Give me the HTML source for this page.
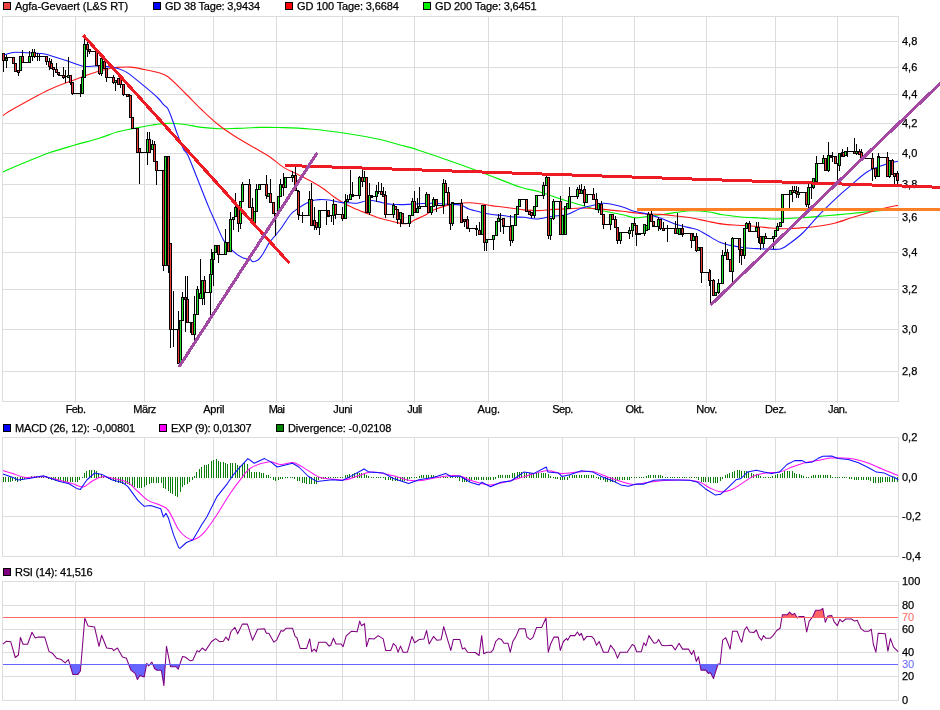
<!DOCTYPE html>
<html><head><meta charset="utf-8"><title>Chart</title>
<style>html,body{margin:0;padding:0;background:#fff}svg{display:block}</style></head>
<body><svg width="940" height="710" viewBox="0 0 940 710">
<rect width="940" height="710" fill="#fff"/>
<g shape-rendering="crispEdges" stroke="#dcdcdc" stroke-width="1" fill="none">
<line x1="75.5" y1="16.5" x2="75.5" y2="403.0"/>
<line x1="144.5" y1="16.5" x2="144.5" y2="403.0"/>
<line x1="213.5" y1="16.5" x2="213.5" y2="403.0"/>
<line x1="276.5" y1="16.5" x2="276.5" y2="403.0"/>
<line x1="342.5" y1="16.5" x2="342.5" y2="403.0"/>
<line x1="414.5" y1="16.5" x2="414.5" y2="403.0"/>
<line x1="488.5" y1="16.5" x2="488.5" y2="403.0"/>
<line x1="562.5" y1="16.5" x2="562.5" y2="403.0"/>
<line x1="634.5" y1="16.5" x2="634.5" y2="403.0"/>
<line x1="706.5" y1="16.5" x2="706.5" y2="403.0"/>
<line x1="775.5" y1="16.5" x2="775.5" y2="403.0"/>
<line x1="837.5" y1="16.5" x2="837.5" y2="403.0"/>
<line x1="2.5" y1="41.5" x2="898.5" y2="41.5"/>
<line x1="2.5" y1="67.5" x2="898.5" y2="67.5"/>
<line x1="2.5" y1="94.5" x2="898.5" y2="94.5"/>
<line x1="2.5" y1="123.5" x2="898.5" y2="123.5"/>
<line x1="2.5" y1="153.5" x2="898.5" y2="153.5"/>
<line x1="2.5" y1="184.5" x2="898.5" y2="184.5"/>
<line x1="2.5" y1="217.5" x2="898.5" y2="217.5"/>
<line x1="2.5" y1="252.5" x2="898.5" y2="252.5"/>
<line x1="2.5" y1="289.5" x2="898.5" y2="289.5"/>
<line x1="2.5" y1="329.5" x2="898.5" y2="329.5"/>
<line x1="2.5" y1="371.5" x2="898.5" y2="371.5"/>
<rect x="2.5" y="16.5" width="896.0" height="385.0"/>
<line x1="75.5" y1="437.5" x2="75.5" y2="556.5"/>
<line x1="144.5" y1="437.5" x2="144.5" y2="556.5"/>
<line x1="213.5" y1="437.5" x2="213.5" y2="556.5"/>
<line x1="276.5" y1="437.5" x2="276.5" y2="556.5"/>
<line x1="342.5" y1="437.5" x2="342.5" y2="556.5"/>
<line x1="414.5" y1="437.5" x2="414.5" y2="556.5"/>
<line x1="488.5" y1="437.5" x2="488.5" y2="556.5"/>
<line x1="562.5" y1="437.5" x2="562.5" y2="556.5"/>
<line x1="634.5" y1="437.5" x2="634.5" y2="556.5"/>
<line x1="706.5" y1="437.5" x2="706.5" y2="556.5"/>
<line x1="775.5" y1="437.5" x2="775.5" y2="556.5"/>
<line x1="837.5" y1="437.5" x2="837.5" y2="556.5"/>
<line x1="2.5" y1="516.5" x2="898.5" y2="516.5"/>
<rect x="2.5" y="437.5" width="896.0" height="119.0"/>
<line x1="75.5" y1="581.5" x2="75.5" y2="700.5"/>
<line x1="144.5" y1="581.5" x2="144.5" y2="700.5"/>
<line x1="213.5" y1="581.5" x2="213.5" y2="700.5"/>
<line x1="276.5" y1="581.5" x2="276.5" y2="700.5"/>
<line x1="342.5" y1="581.5" x2="342.5" y2="700.5"/>
<line x1="414.5" y1="581.5" x2="414.5" y2="700.5"/>
<line x1="488.5" y1="581.5" x2="488.5" y2="700.5"/>
<line x1="562.5" y1="581.5" x2="562.5" y2="700.5"/>
<line x1="634.5" y1="581.5" x2="634.5" y2="700.5"/>
<line x1="706.5" y1="581.5" x2="706.5" y2="700.5"/>
<line x1="775.5" y1="581.5" x2="775.5" y2="700.5"/>
<line x1="837.5" y1="581.5" x2="837.5" y2="700.5"/>
<line x1="2.5" y1="605.5" x2="898.5" y2="605.5"/>
<line x1="2.5" y1="629.5" x2="898.5" y2="629.5"/>
<line x1="2.5" y1="652.5" x2="898.5" y2="652.5"/>
<line x1="2.5" y1="676.5" x2="898.5" y2="676.5"/>
<rect x="2.5" y="581.5" width="896.0" height="119.0"/>
</g>
<clipPath id="c1"><rect x="3" y="17" width="895" height="384"/></clipPath>
<g clip-path="url(#c1)">
<path fill="none" stroke="#00f000" stroke-width="1.15" d="M2.5,172 C6.25,170.42 17.08,165.75 25,162.5 C32.92,159.25 41.67,155.42 50,152.5 C58.33,149.58 66.67,147.42 75,145 C83.33,142.58 93,140.17 100,138 C107,135.83 111.33,133.6 117,132 C122.67,130.4 128.33,129.52 134,128.4 C139.67,127.28 146.17,126.1 151,125.3 C155.83,124.5 159.58,123.93 163,123.6 C166.42,123.27 167.83,123.15 171.5,123.3 C175.17,123.45 179.92,123.82 185,124.5 C190.08,125.18 196.33,126.7 202,127.4 C207.67,128.1 213.33,128.53 219,128.7 C224.67,128.87 229.17,128.62 236,128.4 C242.83,128.18 253.08,127.55 260,127.4 C266.92,127.25 269.17,127.23 277.5,127.5 C285.83,127.77 297.92,127.92 310,129 C322.08,130.08 338.33,132.25 350,134 C361.67,135.75 371.67,137.67 380,139.5 C388.33,141.33 393.67,143.25 400,145 C406.33,146.75 405.58,145.88 418,150 C430.42,154.12 457.5,163.53 474.5,169.7 C491.5,175.87 509.38,183.37 520,187 C530.62,190.63 530.48,189.22 538.2,191.5 C545.92,193.78 556.92,197.78 566.3,200.7 C575.68,203.62 585.1,206.65 594.5,209 C603.9,211.35 615.95,213.33 622.7,214.8 C629.45,216.27 631.2,217.48 635,217.8 C638.8,218.12 641.17,217.2 645.5,216.7 C649.83,216.2 655.83,215.52 661,214.8 C666.17,214.08 671.33,213.07 676.5,212.4 C681.67,211.73 686.83,210.92 692,210.8 C697.17,210.68 702.33,211.03 707.5,211.7 C712.67,212.37 717.83,213.97 723,214.8 C728.17,215.63 732.33,216.17 738.5,216.7 C744.67,217.23 753.87,217.62 760,218 C766.13,218.38 768.52,219.03 775.3,219 C782.08,218.97 792.25,218.35 800.7,217.8 C809.15,217.25 817.55,216.42 826,215.7 C834.45,214.98 842.95,214.28 851.4,213.5 C859.85,212.72 868.93,211.78 876.7,211 C884.47,210.22 894.45,209.17 898,208.8"/>
<path fill="none" stroke="#ff1a1a" stroke-width="1.1" d="M2.5,116 C4,115 3.83,114.33 11.5,110 C19.17,105.67 37.87,95.1 48.5,90 C59.13,84.9 67.22,82.45 75.3,79.4 C83.38,76.35 91.47,73.47 97,71.7 C102.53,69.93 105.17,69.52 108.5,68.8 C111.83,68.08 113.32,67.68 117,67.4 C120.68,67.12 126.05,66.75 130.6,67.1 C135.15,67.45 139.75,68.6 144.3,69.5 C148.85,70.4 153.95,71.28 157.9,72.5 C161.85,73.72 163.48,73.38 168,76.8 C172.52,80.22 179.33,87.47 185,93 C190.67,98.53 196.33,104.62 202,110 C207.67,115.38 213.33,120.8 219,125.3 C224.67,129.8 229.73,133.05 236,137 C242.27,140.95 250.93,145.67 256.6,149 C262.27,152.33 265.43,153.9 270,157 C274.57,160.1 279.33,164.67 284,167.6 C288.67,170.53 293.33,172.25 298,174.6 C302.67,176.95 307.75,179.35 312,181.7 C316.25,184.05 319.93,186.23 323.5,188.7 C327.07,191.17 330.12,194.15 333.4,196.5 C336.68,198.85 339.68,200.8 343.2,202.8 C346.72,204.8 350.27,206.63 354.5,208.5 C358.73,210.37 364.55,212.42 368.6,214 C372.65,215.58 375.22,216.87 378.8,218 C382.38,219.13 386.72,219.95 390.1,220.8 C393.48,221.65 396.48,222.6 399.1,223.1 C401.72,223.6 403.92,223.88 405.8,223.8 C407.68,223.72 408.88,223.27 410.4,222.6 C411.92,221.93 412.47,221.03 414.9,219.8 C417.33,218.57 422.1,216.73 425,215.2 C427.9,213.67 428.75,212.2 432.3,210.6 C435.85,209 442.08,206.78 446.3,205.6 C450.52,204.42 453.83,203.97 457.6,203.5 C461.37,203.03 465.17,202.75 468.9,202.8 C472.63,202.85 476.25,203.33 480,203.8 C483.75,204.27 487.62,205.07 491.4,205.6 C495.18,206.13 498.93,206.52 502.7,207 C506.47,207.48 510.45,208.02 514,208.5 C517.55,208.98 519.97,209.55 524,209.9 C528.03,210.25 533.48,210.68 538.2,210.6 C542.92,210.52 547.62,209.68 552.3,209.4 C556.98,209.12 561.62,209.13 566.3,208.9 C570.98,208.67 575.7,208.07 580.4,208 C585.1,207.93 589.8,208.18 594.5,208.5 C599.2,208.82 603.9,209.43 608.6,209.9 C613.3,210.37 617.47,210.72 622.7,211.3 C627.93,211.88 633.62,212.88 640,213.4 C646.38,213.92 654.92,213.97 661,214.4 C667.08,214.83 671.33,215.4 676.5,216 C681.67,216.6 686.83,217.12 692,218 C697.17,218.88 702.33,220.28 707.5,221.3 C712.67,222.32 717.83,223.45 723,224.1 C728.17,224.75 733.85,224.88 738.5,225.2 C743.15,225.52 746.17,225.6 750.9,226 C755.63,226.4 761.42,227.13 766.9,227.6 C772.38,228.07 778.17,228.75 783.8,228.8 C789.43,228.85 795.07,228.33 800.7,227.9 C806.33,227.47 811.97,226.98 817.6,226.2 C823.23,225.42 828.87,224.6 834.5,223.2 C840.13,221.8 845.78,219.55 851.4,217.8 C857.02,216.05 862.58,214.33 868.2,212.7 C873.82,211.07 880.13,209.22 885.1,208 C890.07,206.78 895.85,205.83 898,205.4"/>
<path fill="none" stroke="#1a1aff" stroke-width="1.1" d="M3,55 C3.45,54.92 3.65,54.97 5.7,54.5 C7.75,54.03 10.08,52.38 15.3,52.2 C20.52,52.02 31.88,53.07 37,53.4 C42.12,53.73 40.67,52.85 46,54.2 C51.33,55.55 62.83,59.5 69,61.5 C75.17,63.5 78.55,65.45 83,66.2 C87.45,66.95 91.73,65.93 95.7,66 C99.67,66.07 103.25,66.22 106.8,66.6 C110.35,66.98 113.6,67.3 117,68.3 C120.4,69.3 122.65,69.62 127.2,72.6 C131.75,75.58 139.18,81.97 144.3,86.2 C149.42,90.43 154.65,94.88 157.9,98 C161.15,101.12 162.12,103.07 163.8,104.9 C165.48,106.73 166.43,106.15 168,109 C169.57,111.85 171.77,118.17 173.2,122 C174.63,125.83 174.9,127.5 176.6,132 C178.3,136.5 181.5,145.08 183.4,149 C185.3,152.92 185.52,150.17 188,155.5 C190.48,160.83 194.88,172.48 198.3,181 C201.72,189.52 205.67,199.77 208.5,206.6 C211.33,213.43 212.75,216.33 215.3,222 C217.85,227.67 220.9,235.8 223.8,240.6 C226.7,245.4 229.57,247.93 232.7,250.8 C235.83,253.67 239.63,256.32 242.6,257.8 C245.57,259.28 248.8,259.05 250.5,259.7 C252.2,260.35 251.5,261.7 252.8,261.7 C254.1,261.7 256.77,260.77 258.3,259.7 C259.83,258.63 260.88,256.88 262,255.3 C263.12,253.72 263.78,252.32 265,250.2 C266.22,248.08 268.13,244.42 269.3,242.6 C270.47,240.78 270.78,240.73 272,239.3 C273.22,237.87 275.05,235.88 276.6,234 C278.15,232.12 280.07,229.67 281.3,228 C282.53,226.33 282.38,226.33 284,224 C285.62,221.67 288.67,216.58 291,214 C293.33,211.42 295.67,210.17 298,208.5 C300.33,206.83 302.67,205.3 305,204 C307.33,202.7 309.62,201.43 312,200.7 C314.38,199.97 316.47,199.72 319.3,199.6 C322.13,199.48 325.48,199.53 329,200 C332.52,200.47 337.07,201.93 340.4,202.4 C343.73,202.87 346.18,202.67 349,202.8 C351.82,202.93 354.5,203.5 357.3,203.2 C360.1,202.9 363.02,201.42 365.8,201 C368.58,200.58 371.18,200.4 374,200.7 C376.82,201 379.87,202.22 382.7,202.8 C385.53,203.38 387.45,203.9 391,204.2 C394.55,204.5 399.47,204.67 404,204.6 C408.53,204.53 413.48,204.03 418.2,203.8 C422.92,203.57 427.62,203.13 432.3,203.2 C436.98,203.27 441.62,203.9 446.3,204.2 C450.98,204.5 456.63,204.2 460.4,205 C464.17,205.8 465.63,207.83 468.9,209 C472.17,210.17 476.25,211.08 480,212 C483.75,212.92 487.62,213.92 491.4,214.5 C495.18,215.08 498.93,215.08 502.7,215.5 C506.47,215.92 510.45,216.7 514,217 C517.55,217.3 520.2,216.97 524,217.3 C527.8,217.63 532.08,219.18 536.8,219 C541.52,218.82 547.38,216.9 552.3,216.2 C557.22,215.5 561.62,216.08 566.3,214.8 C570.98,213.52 575.7,210.13 580.4,208.5 C585.1,206.87 590.73,205.88 594.5,205 C598.27,204.12 600.18,203.33 603,203.2 C605.82,203.07 608.12,203.57 611.4,204.2 C614.68,204.83 618.93,205.82 622.7,207 C626.47,208.18 630.2,210.2 634,211.3 C637.8,212.4 641,212.45 645.5,213.6 C650,214.75 655.83,216.4 661,218.2 C666.17,220 671.33,222.72 676.5,224.4 C681.67,226.08 688.38,227.38 692,228.3 C695.62,229.22 695.62,228.73 698.2,229.9 C700.78,231.07 703.88,233.23 707.5,235.3 C711.12,237.37 716.03,240.62 719.9,242.3 C723.77,243.98 726.57,244.5 730.7,245.4 C734.83,246.3 739.82,247.13 744.7,247.7 C749.58,248.27 756.3,248.58 760,248.8 C763.7,249.02 763.5,248.97 766.9,249 C770.3,249.03 776.73,249.83 780.4,249 C784.07,248.17 785.18,246.67 788.9,244 C792.62,241.33 797.58,237.93 802.7,233 C807.82,228.07 814.05,220.18 819.6,214.4 C825.15,208.62 830.7,203.23 836,198.3 C841.3,193.37 846.03,189.3 851.4,184.8 C856.77,180.3 862.58,174.67 868.2,171.3 C873.82,167.93 880.13,166.28 885.1,164.6 C890.07,162.92 895.85,161.77 898,161.2"/>
</g>
<g shape-rendering="crispEdges">
<rect x="3" y="53" width="1" height="19" fill="#000"/>
<rect x="2" y="53" width="3" height="8" fill="#000"/>
<rect x="3" y="54" width="1" height="6" fill="#ee3a38"/>
<rect x="6" y="55" width="1" height="13" fill="#000"/>
<rect x="5" y="58" width="3" height="3" fill="#000"/>
<rect x="6" y="59" width="1" height="1" fill="#22e22a"/>
<rect x="5" y="57" width="9" height="1" fill="#000"/>
<rect x="13" y="57" width="1" height="6" fill="#000"/>
<rect x="12" y="57" width="3" height="7" fill="#000"/>
<rect x="13" y="58" width="1" height="5" fill="#ee3a38"/>
<rect x="15" y="63" width="1" height="8" fill="#000"/>
<rect x="14" y="63" width="3" height="9" fill="#000"/>
<rect x="15" y="64" width="1" height="7" fill="#ee3a38"/>
<rect x="18" y="70" width="1" height="6" fill="#000"/>
<rect x="17" y="70" width="3" height="3" fill="#000"/>
<rect x="18" y="71" width="1" height="1" fill="#ee3a38"/>
<rect x="20" y="56" width="1" height="14" fill="#000"/>
<rect x="19" y="56" width="3" height="15" fill="#000"/>
<rect x="20" y="57" width="1" height="13" fill="#22e22a"/>
<rect x="22" y="50" width="1" height="12" fill="#000"/>
<rect x="21" y="56" width="3" height="7" fill="#000"/>
<rect x="22" y="57" width="1" height="5" fill="#ee3a38"/>
<rect x="22" y="62" width="8" height="1" fill="#000"/>
<rect x="29" y="51" width="1" height="11" fill="#000"/>
<rect x="28" y="56" width="3" height="7" fill="#000"/>
<rect x="29" y="57" width="1" height="5" fill="#22e22a"/>
<rect x="32" y="49" width="1" height="12" fill="#000"/>
<rect x="31" y="52" width="3" height="5" fill="#000"/>
<rect x="32" y="53" width="1" height="3" fill="#22e22a"/>
<rect x="34" y="49" width="1" height="9" fill="#000"/>
<rect x="33" y="52" width="3" height="5" fill="#000"/>
<rect x="34" y="53" width="1" height="3" fill="#ee3a38"/>
<rect x="37" y="53" width="1" height="8" fill="#000"/>
<rect x="36" y="56" width="3" height="1" fill="#000"/>
<rect x="39" y="54" width="1" height="7" fill="#000"/>
<rect x="38" y="56" width="3" height="1" fill="#000"/>
<rect x="33" y="56" width="13" height="1" fill="#000"/>
<rect x="46" y="56" width="1" height="9" fill="#000"/>
<rect x="45" y="56" width="3" height="6" fill="#000"/>
<rect x="46" y="57" width="1" height="4" fill="#ee3a38"/>
<rect x="49" y="58" width="1" height="12" fill="#000"/>
<rect x="48" y="61" width="3" height="6" fill="#000"/>
<rect x="49" y="62" width="1" height="4" fill="#ee3a38"/>
<rect x="51" y="59" width="1" height="9" fill="#000"/>
<rect x="50" y="63" width="3" height="6" fill="#000"/>
<rect x="51" y="64" width="1" height="4" fill="#ee3a38"/>
<rect x="53" y="67" width="1" height="10" fill="#000"/>
<rect x="52" y="67" width="3" height="3" fill="#000"/>
<rect x="53" y="68" width="1" height="1" fill="#ee3a38"/>
<rect x="52" y="69" width="5" height="1" fill="#000"/>
<rect x="56" y="63" width="1" height="9" fill="#000"/>
<rect x="55" y="69" width="3" height="4" fill="#000"/>
<rect x="56" y="70" width="1" height="2" fill="#ee3a38"/>
<rect x="58" y="72" width="1" height="2" fill="#000"/>
<rect x="57" y="72" width="3" height="3" fill="#000"/>
<rect x="58" y="73" width="1" height="1" fill="#ee3a38"/>
<rect x="58" y="75" width="6" height="1" fill="#000"/>
<rect x="63" y="67" width="1" height="12" fill="#000"/>
<rect x="62" y="75" width="3" height="3" fill="#000"/>
<rect x="63" y="76" width="1" height="1" fill="#ee3a38"/>
<rect x="65" y="70" width="1" height="13" fill="#000"/>
<rect x="64" y="76" width="3" height="1" fill="#000"/>
<rect x="68" y="57" width="1" height="20" fill="#000"/>
<rect x="67" y="75" width="3" height="3" fill="#000"/>
<rect x="68" y="76" width="1" height="1" fill="#22e22a"/>
<rect x="70" y="75" width="1" height="10" fill="#000"/>
<rect x="69" y="75" width="3" height="8" fill="#000"/>
<rect x="70" y="76" width="1" height="6" fill="#ee3a38"/>
<rect x="72" y="82" width="1" height="13" fill="#000"/>
<rect x="71" y="82" width="3" height="12" fill="#000"/>
<rect x="72" y="83" width="1" height="10" fill="#ee3a38"/>
<rect x="72" y="93" width="9" height="1" fill="#000"/>
<rect x="80" y="84" width="1" height="13" fill="#000"/>
<rect x="79" y="93" width="3" height="1" fill="#000"/>
<rect x="82" y="70" width="1" height="23" fill="#000"/>
<rect x="81" y="77" width="3" height="17" fill="#000"/>
<rect x="82" y="78" width="1" height="15" fill="#22e22a"/>
<rect x="84" y="39" width="1" height="38" fill="#000"/>
<rect x="83" y="44" width="3" height="34" fill="#000"/>
<rect x="84" y="45" width="1" height="32" fill="#22e22a"/>
<rect x="87" y="42" width="1" height="15" fill="#000"/>
<rect x="86" y="44" width="3" height="6" fill="#000"/>
<rect x="87" y="45" width="1" height="4" fill="#ee3a38"/>
<rect x="89" y="49" width="1" height="5" fill="#000"/>
<rect x="88" y="49" width="3" height="3" fill="#000"/>
<rect x="89" y="50" width="1" height="1" fill="#ee3a38"/>
<rect x="88" y="51" width="9" height="1" fill="#000"/>
<rect x="96" y="51" width="1" height="14" fill="#000"/>
<rect x="95" y="51" width="3" height="15" fill="#000"/>
<rect x="96" y="52" width="1" height="13" fill="#ee3a38"/>
<rect x="99" y="65" width="1" height="10" fill="#000"/>
<rect x="98" y="65" width="3" height="9" fill="#000"/>
<rect x="99" y="66" width="1" height="7" fill="#ee3a38"/>
<rect x="101" y="58" width="1" height="18" fill="#000"/>
<rect x="100" y="58" width="3" height="16" fill="#000"/>
<rect x="101" y="59" width="1" height="14" fill="#22e22a"/>
<rect x="104" y="61" width="1" height="7" fill="#000"/>
<rect x="103" y="61" width="3" height="8" fill="#000"/>
<rect x="104" y="62" width="1" height="6" fill="#ee3a38"/>
<rect x="106" y="68" width="1" height="14" fill="#000"/>
<rect x="105" y="68" width="3" height="10" fill="#000"/>
<rect x="106" y="69" width="1" height="8" fill="#ee3a38"/>
<rect x="106" y="77" width="8" height="1" fill="#000"/>
<rect x="113" y="75" width="1" height="9" fill="#000"/>
<rect x="112" y="77" width="3" height="6" fill="#000"/>
<rect x="113" y="78" width="1" height="4" fill="#ee3a38"/>
<rect x="115" y="80" width="1" height="11" fill="#000"/>
<rect x="114" y="80" width="3" height="3" fill="#000"/>
<rect x="115" y="81" width="1" height="1" fill="#22e22a"/>
<rect x="118" y="78" width="1" height="6" fill="#000"/>
<rect x="117" y="78" width="3" height="7" fill="#000"/>
<rect x="118" y="79" width="1" height="5" fill="#ee3a38"/>
<rect x="120" y="74" width="1" height="14" fill="#000"/>
<rect x="119" y="78" width="3" height="7" fill="#000"/>
<rect x="120" y="79" width="1" height="5" fill="#ee3a38"/>
<rect x="123" y="84" width="1" height="12" fill="#000"/>
<rect x="122" y="84" width="3" height="11" fill="#000"/>
<rect x="123" y="85" width="1" height="9" fill="#ee3a38"/>
<rect x="124" y="94" width="6" height="1" fill="#000"/>
<rect x="127" y="94" width="1" height="3" fill="#000"/>
<rect x="126" y="94" width="3" height="3" fill="#000"/>
<rect x="127" y="95" width="1" height="1" fill="#ee3a38"/>
<rect x="130" y="95" width="1" height="22" fill="#000"/>
<rect x="129" y="95" width="3" height="23" fill="#000"/>
<rect x="130" y="96" width="1" height="21" fill="#ee3a38"/>
<rect x="132" y="117" width="1" height="11" fill="#000"/>
<rect x="131" y="117" width="3" height="12" fill="#000"/>
<rect x="132" y="118" width="1" height="10" fill="#ee3a38"/>
<rect x="132" y="128" width="5" height="1" fill="#000"/>
<rect x="137" y="128" width="1" height="24" fill="#000"/>
<rect x="136" y="128" width="3" height="25" fill="#000"/>
<rect x="137" y="129" width="1" height="23" fill="#ee3a38"/>
<rect x="139" y="148" width="1" height="36" fill="#000"/>
<rect x="138" y="148" width="3" height="5" fill="#000"/>
<rect x="139" y="149" width="1" height="3" fill="#ee3a38"/>
<rect x="138" y="152" width="9" height="1" fill="#000"/>
<rect x="147" y="132" width="1" height="33" fill="#000"/>
<rect x="146" y="139" width="3" height="14" fill="#000"/>
<rect x="147" y="140" width="1" height="12" fill="#22e22a"/>
<rect x="149" y="132" width="1" height="20" fill="#000"/>
<rect x="148" y="139" width="3" height="14" fill="#000"/>
<rect x="149" y="140" width="1" height="12" fill="#ee3a38"/>
<rect x="152" y="140" width="1" height="9" fill="#000"/>
<rect x="151" y="144" width="3" height="6" fill="#000"/>
<rect x="152" y="145" width="1" height="4" fill="#22e22a"/>
<rect x="154" y="141" width="1" height="20" fill="#000"/>
<rect x="153" y="144" width="3" height="18" fill="#000"/>
<rect x="154" y="145" width="1" height="16" fill="#ee3a38"/>
<rect x="156" y="161" width="1" height="24" fill="#000"/>
<rect x="155" y="161" width="3" height="10" fill="#000"/>
<rect x="156" y="162" width="1" height="8" fill="#ee3a38"/>
<rect x="156" y="170" width="8" height="1" fill="#000"/>
<rect x="163" y="170" width="1" height="101" fill="#000"/>
<rect x="162" y="170" width="3" height="96" fill="#000"/>
<rect x="163" y="171" width="1" height="94" fill="#ee3a38"/>
<rect x="165" y="156" width="1" height="109" fill="#000"/>
<rect x="164" y="156" width="3" height="110" fill="#000"/>
<rect x="165" y="157" width="1" height="108" fill="#22e22a"/>
<rect x="168" y="156" width="1" height="117" fill="#000"/>
<rect x="167" y="156" width="3" height="110" fill="#000"/>
<rect x="168" y="157" width="1" height="108" fill="#ee3a38"/>
<rect x="170" y="243" width="1" height="105" fill="#000"/>
<rect x="169" y="243" width="3" height="87" fill="#000"/>
<rect x="170" y="244" width="1" height="85" fill="#ee3a38"/>
<rect x="171" y="329" width="7" height="1" fill="#000"/>
<rect x="173" y="291" width="1" height="56" fill="#000"/>
<rect x="172" y="329" width="3" height="1" fill="#000"/>
<rect x="178" y="311" width="1" height="52" fill="#000"/>
<rect x="177" y="329" width="3" height="35" fill="#000"/>
<rect x="178" y="330" width="1" height="33" fill="#ee3a38"/>
<rect x="180" y="320" width="1" height="43" fill="#000"/>
<rect x="179" y="320" width="3" height="44" fill="#000"/>
<rect x="180" y="321" width="1" height="42" fill="#22e22a"/>
<rect x="182" y="292" width="1" height="28" fill="#000"/>
<rect x="181" y="297" width="3" height="24" fill="#000"/>
<rect x="182" y="298" width="1" height="22" fill="#22e22a"/>
<rect x="185" y="276" width="1" height="56" fill="#000"/>
<rect x="184" y="297" width="3" height="3" fill="#000"/>
<rect x="185" y="298" width="1" height="1" fill="#ee3a38"/>
<rect x="187" y="276" width="1" height="46" fill="#000"/>
<rect x="186" y="299" width="3" height="24" fill="#000"/>
<rect x="187" y="300" width="1" height="22" fill="#ee3a38"/>
<rect x="188" y="322" width="4" height="1" fill="#000"/>
<rect x="191" y="322" width="1" height="10" fill="#000"/>
<rect x="190" y="322" width="3" height="11" fill="#000"/>
<rect x="191" y="323" width="1" height="9" fill="#ee3a38"/>
<rect x="192" y="322" width="1" height="12" fill="#000"/>
<rect x="191" y="322" width="3" height="13" fill="#000"/>
<rect x="192" y="323" width="1" height="11" fill="#ee3a38"/>
<rect x="194" y="296" width="1" height="44" fill="#000"/>
<rect x="193" y="314" width="3" height="21" fill="#000"/>
<rect x="194" y="315" width="1" height="19" fill="#22e22a"/>
<rect x="197" y="286" width="1" height="28" fill="#000"/>
<rect x="196" y="289" width="3" height="26" fill="#000"/>
<rect x="197" y="290" width="1" height="24" fill="#22e22a"/>
<rect x="200" y="259" width="1" height="39" fill="#000"/>
<rect x="199" y="293" width="3" height="6" fill="#000"/>
<rect x="200" y="294" width="1" height="4" fill="#22e22a"/>
<rect x="202" y="280" width="1" height="25" fill="#000"/>
<rect x="201" y="280" width="3" height="19" fill="#000"/>
<rect x="202" y="281" width="1" height="17" fill="#22e22a"/>
<rect x="204" y="276" width="1" height="29" fill="#000"/>
<rect x="203" y="280" width="3" height="13" fill="#000"/>
<rect x="204" y="281" width="1" height="11" fill="#ee3a38"/>
<rect x="204" y="292" width="6" height="1" fill="#000"/>
<rect x="210" y="274" width="1" height="43" fill="#000"/>
<rect x="209" y="274" width="3" height="19" fill="#000"/>
<rect x="210" y="275" width="1" height="17" fill="#22e22a"/>
<rect x="211" y="249" width="1" height="25" fill="#000"/>
<rect x="210" y="259" width="3" height="16" fill="#000"/>
<rect x="211" y="260" width="1" height="14" fill="#22e22a"/>
<rect x="213" y="252" width="1" height="34" fill="#000"/>
<rect x="212" y="252" width="3" height="8" fill="#000"/>
<rect x="213" y="253" width="1" height="6" fill="#22e22a"/>
<rect x="215" y="245" width="1" height="7" fill="#000"/>
<rect x="214" y="245" width="3" height="8" fill="#000"/>
<rect x="215" y="246" width="1" height="6" fill="#22e22a"/>
<rect x="218" y="245" width="1" height="18" fill="#000"/>
<rect x="217" y="245" width="3" height="10" fill="#000"/>
<rect x="218" y="246" width="1" height="8" fill="#ee3a38"/>
<rect x="218" y="254" width="9" height="1" fill="#000"/>
<rect x="225" y="229" width="1" height="25" fill="#000"/>
<rect x="224" y="242" width="3" height="13" fill="#000"/>
<rect x="225" y="243" width="1" height="11" fill="#22e22a"/>
<rect x="228" y="242" width="1" height="9" fill="#000"/>
<rect x="227" y="242" width="3" height="10" fill="#000"/>
<rect x="228" y="243" width="1" height="8" fill="#ee3a38"/>
<rect x="230" y="212" width="1" height="39" fill="#000"/>
<rect x="229" y="219" width="3" height="33" fill="#000"/>
<rect x="230" y="220" width="1" height="31" fill="#22e22a"/>
<rect x="233" y="217" width="1" height="13" fill="#000"/>
<rect x="232" y="217" width="3" height="3" fill="#000"/>
<rect x="233" y="218" width="1" height="1" fill="#22e22a"/>
<rect x="235" y="193" width="1" height="23" fill="#000"/>
<rect x="234" y="207" width="3" height="10" fill="#000"/>
<rect x="235" y="208" width="1" height="8" fill="#22e22a"/>
<rect x="238" y="207" width="1" height="25" fill="#000"/>
<rect x="237" y="207" width="3" height="17" fill="#000"/>
<rect x="238" y="208" width="1" height="15" fill="#ee3a38"/>
<rect x="240" y="201" width="1" height="28" fill="#000"/>
<rect x="239" y="201" width="3" height="23" fill="#000"/>
<rect x="240" y="202" width="1" height="21" fill="#22e22a"/>
<rect x="242" y="182" width="1" height="19" fill="#000"/>
<rect x="241" y="184" width="3" height="18" fill="#000"/>
<rect x="242" y="185" width="1" height="16" fill="#22e22a"/>
<rect x="242" y="184" width="8" height="1" fill="#000"/>
<rect x="249" y="179" width="1" height="28" fill="#000"/>
<rect x="248" y="184" width="3" height="24" fill="#000"/>
<rect x="249" y="185" width="1" height="22" fill="#ee3a38"/>
<rect x="252" y="198" width="1" height="25" fill="#000"/>
<rect x="251" y="207" width="3" height="17" fill="#000"/>
<rect x="252" y="208" width="1" height="15" fill="#ee3a38"/>
<rect x="254" y="211" width="1" height="12" fill="#000"/>
<rect x="253" y="211" width="3" height="13" fill="#000"/>
<rect x="254" y="212" width="1" height="11" fill="#22e22a"/>
<rect x="256" y="184" width="1" height="27" fill="#000"/>
<rect x="255" y="189" width="3" height="23" fill="#000"/>
<rect x="256" y="190" width="1" height="21" fill="#22e22a"/>
<rect x="259" y="184" width="1" height="5" fill="#000"/>
<rect x="258" y="184" width="3" height="6" fill="#000"/>
<rect x="259" y="185" width="1" height="4" fill="#22e22a"/>
<rect x="259" y="184" width="8" height="1" fill="#000"/>
<rect x="266" y="175" width="1" height="24" fill="#000"/>
<rect x="265" y="184" width="3" height="12" fill="#000"/>
<rect x="266" y="185" width="1" height="10" fill="#ee3a38"/>
<rect x="268" y="193" width="1" height="3" fill="#000"/>
<rect x="267" y="193" width="3" height="4" fill="#000"/>
<rect x="268" y="194" width="1" height="2" fill="#22e22a"/>
<rect x="270" y="179" width="1" height="23" fill="#000"/>
<rect x="269" y="193" width="3" height="10" fill="#000"/>
<rect x="270" y="194" width="1" height="8" fill="#ee3a38"/>
<rect x="273" y="202" width="1" height="11" fill="#000"/>
<rect x="272" y="202" width="3" height="12" fill="#000"/>
<rect x="273" y="203" width="1" height="10" fill="#ee3a38"/>
<rect x="275" y="213" width="1" height="23" fill="#000"/>
<rect x="274" y="213" width="3" height="3" fill="#000"/>
<rect x="275" y="214" width="1" height="1" fill="#ee3a38"/>
<rect x="278" y="196" width="1" height="16" fill="#000"/>
<rect x="277" y="196" width="3" height="17" fill="#000"/>
<rect x="278" y="197" width="1" height="15" fill="#22e22a"/>
<rect x="280" y="179" width="1" height="17" fill="#000"/>
<rect x="279" y="184" width="3" height="13" fill="#000"/>
<rect x="280" y="185" width="1" height="11" fill="#22e22a"/>
<rect x="283" y="173" width="1" height="23" fill="#000"/>
<rect x="282" y="184" width="3" height="4" fill="#000"/>
<rect x="283" y="185" width="1" height="2" fill="#ee3a38"/>
<rect x="285" y="177" width="1" height="10" fill="#000"/>
<rect x="284" y="177" width="3" height="11" fill="#000"/>
<rect x="285" y="178" width="1" height="9" fill="#22e22a"/>
<rect x="284" y="177" width="10" height="1" fill="#000"/>
<rect x="292" y="171" width="1" height="11" fill="#000"/>
<rect x="291" y="175" width="3" height="3" fill="#000"/>
<rect x="292" y="176" width="1" height="1" fill="#22e22a"/>
<rect x="295" y="167" width="1" height="23" fill="#000"/>
<rect x="294" y="175" width="3" height="16" fill="#000"/>
<rect x="295" y="176" width="1" height="14" fill="#ee3a38"/>
<rect x="297" y="190" width="1" height="1" fill="#000"/>
<rect x="296" y="190" width="3" height="1" fill="#000"/>
<rect x="298" y="191" width="1" height="29" fill="#000"/>
<rect x="297" y="191" width="3" height="24" fill="#000"/>
<rect x="298" y="192" width="1" height="22" fill="#ee3a38"/>
<rect x="299" y="215" width="11" height="1" fill="#000"/>
<rect x="302" y="212" width="1" height="11" fill="#000"/>
<rect x="301" y="215" width="3" height="1" fill="#000"/>
<rect x="309" y="191" width="1" height="24" fill="#000"/>
<rect x="308" y="199" width="3" height="17" fill="#000"/>
<rect x="309" y="200" width="1" height="15" fill="#22e22a"/>
<rect x="311" y="183" width="1" height="42" fill="#000"/>
<rect x="310" y="199" width="3" height="27" fill="#000"/>
<rect x="311" y="200" width="1" height="25" fill="#ee3a38"/>
<rect x="314" y="207" width="1" height="23" fill="#000"/>
<rect x="313" y="220" width="3" height="6" fill="#000"/>
<rect x="314" y="221" width="1" height="4" fill="#ee3a38"/>
<rect x="316" y="222" width="1" height="8" fill="#000"/>
<rect x="315" y="222" width="3" height="6" fill="#000"/>
<rect x="316" y="223" width="1" height="4" fill="#ee3a38"/>
<rect x="319" y="210" width="1" height="25" fill="#000"/>
<rect x="318" y="210" width="3" height="18" fill="#000"/>
<rect x="319" y="211" width="1" height="16" fill="#22e22a"/>
<rect x="318" y="210" width="10" height="1" fill="#000"/>
<rect x="326" y="201" width="1" height="24" fill="#000"/>
<rect x="325" y="210" width="3" height="1" fill="#000"/>
<rect x="328" y="210" width="1" height="6" fill="#000"/>
<rect x="327" y="210" width="3" height="7" fill="#000"/>
<rect x="328" y="211" width="1" height="5" fill="#ee3a38"/>
<rect x="328" y="215" width="5" height="1" fill="#000"/>
<rect x="331" y="215" width="1" height="7" fill="#000"/>
<rect x="330" y="215" width="3" height="1" fill="#000"/>
<rect x="333" y="199" width="1" height="26" fill="#000"/>
<rect x="332" y="204" width="3" height="12" fill="#000"/>
<rect x="333" y="205" width="1" height="10" fill="#22e22a"/>
<rect x="335" y="204" width="1" height="15" fill="#000"/>
<rect x="334" y="204" width="3" height="11" fill="#000"/>
<rect x="335" y="205" width="1" height="9" fill="#ee3a38"/>
<rect x="334" y="214" width="10" height="1" fill="#000"/>
<rect x="342" y="207" width="1" height="14" fill="#000"/>
<rect x="341" y="214" width="3" height="5" fill="#000"/>
<rect x="342" y="215" width="1" height="3" fill="#ee3a38"/>
<rect x="345" y="194" width="1" height="24" fill="#000"/>
<rect x="344" y="201" width="3" height="18" fill="#000"/>
<rect x="345" y="202" width="1" height="16" fill="#22e22a"/>
<rect x="347" y="195" width="1" height="6" fill="#000"/>
<rect x="346" y="199" width="3" height="3" fill="#000"/>
<rect x="347" y="200" width="1" height="1" fill="#22e22a"/>
<rect x="350" y="170" width="1" height="29" fill="#000"/>
<rect x="349" y="194" width="3" height="6" fill="#000"/>
<rect x="350" y="195" width="1" height="4" fill="#22e22a"/>
<rect x="352" y="182" width="1" height="14" fill="#000"/>
<rect x="351" y="194" width="3" height="3" fill="#000"/>
<rect x="352" y="195" width="1" height="1" fill="#ee3a38"/>
<rect x="351" y="195" width="9" height="1" fill="#000"/>
<rect x="359" y="176" width="1" height="23" fill="#000"/>
<rect x="358" y="177" width="3" height="19" fill="#000"/>
<rect x="359" y="178" width="1" height="17" fill="#22e22a"/>
<rect x="362" y="170" width="1" height="17" fill="#000"/>
<rect x="361" y="177" width="3" height="5" fill="#000"/>
<rect x="362" y="178" width="1" height="3" fill="#ee3a38"/>
<rect x="364" y="171" width="1" height="10" fill="#000"/>
<rect x="363" y="177" width="3" height="5" fill="#000"/>
<rect x="364" y="178" width="1" height="3" fill="#22e22a"/>
<rect x="366" y="177" width="1" height="36" fill="#000"/>
<rect x="365" y="177" width="3" height="36" fill="#000"/>
<rect x="366" y="178" width="1" height="34" fill="#ee3a38"/>
<rect x="369" y="183" width="1" height="32" fill="#000"/>
<rect x="368" y="195" width="3" height="18" fill="#000"/>
<rect x="369" y="196" width="1" height="16" fill="#22e22a"/>
<rect x="371" y="195" width="1" height="2" fill="#000"/>
<rect x="370" y="195" width="3" height="3" fill="#000"/>
<rect x="371" y="196" width="1" height="1" fill="#ee3a38"/>
<rect x="371" y="196" width="6" height="1" fill="#000"/>
<rect x="376" y="185" width="1" height="17" fill="#000"/>
<rect x="375" y="191" width="3" height="6" fill="#000"/>
<rect x="376" y="192" width="1" height="4" fill="#22e22a"/>
<rect x="378" y="182" width="1" height="12" fill="#000"/>
<rect x="377" y="191" width="3" height="1" fill="#000"/>
<rect x="381" y="183" width="1" height="11" fill="#000"/>
<rect x="380" y="191" width="3" height="4" fill="#000"/>
<rect x="381" y="192" width="1" height="2" fill="#ee3a38"/>
<rect x="383" y="187" width="1" height="9" fill="#000"/>
<rect x="382" y="194" width="3" height="3" fill="#000"/>
<rect x="383" y="195" width="1" height="1" fill="#ee3a38"/>
<rect x="385" y="191" width="1" height="27" fill="#000"/>
<rect x="384" y="195" width="3" height="20" fill="#000"/>
<rect x="385" y="196" width="1" height="18" fill="#ee3a38"/>
<rect x="384" y="214" width="10" height="1" fill="#000"/>
<rect x="393" y="203" width="1" height="15" fill="#000"/>
<rect x="392" y="205" width="3" height="10" fill="#000"/>
<rect x="393" y="206" width="1" height="8" fill="#22e22a"/>
<rect x="395" y="206" width="1" height="3" fill="#000"/>
<rect x="394" y="206" width="3" height="4" fill="#000"/>
<rect x="395" y="207" width="1" height="2" fill="#ee3a38"/>
<rect x="397" y="209" width="1" height="15" fill="#000"/>
<rect x="396" y="209" width="3" height="11" fill="#000"/>
<rect x="397" y="210" width="1" height="9" fill="#ee3a38"/>
<rect x="400" y="212" width="1" height="15" fill="#000"/>
<rect x="399" y="212" width="3" height="8" fill="#000"/>
<rect x="400" y="213" width="1" height="6" fill="#22e22a"/>
<rect x="402" y="213" width="1" height="10" fill="#000"/>
<rect x="401" y="213" width="3" height="11" fill="#000"/>
<rect x="402" y="214" width="1" height="9" fill="#ee3a38"/>
<rect x="401" y="223" width="9" height="1" fill="#000"/>
<rect x="409" y="215" width="1" height="12" fill="#000"/>
<rect x="408" y="215" width="3" height="9" fill="#000"/>
<rect x="409" y="216" width="1" height="7" fill="#22e22a"/>
<rect x="412" y="198" width="1" height="17" fill="#000"/>
<rect x="411" y="201" width="3" height="15" fill="#000"/>
<rect x="412" y="202" width="1" height="13" fill="#22e22a"/>
<rect x="414" y="191" width="1" height="21" fill="#000"/>
<rect x="413" y="201" width="3" height="12" fill="#000"/>
<rect x="414" y="202" width="1" height="10" fill="#ee3a38"/>
<rect x="417" y="198" width="1" height="14" fill="#000"/>
<rect x="416" y="208" width="3" height="5" fill="#000"/>
<rect x="417" y="209" width="1" height="3" fill="#22e22a"/>
<rect x="419" y="187" width="1" height="21" fill="#000"/>
<rect x="418" y="206" width="3" height="3" fill="#000"/>
<rect x="419" y="207" width="1" height="1" fill="#22e22a"/>
<rect x="419" y="206" width="9" height="1" fill="#000"/>
<rect x="426" y="192" width="1" height="14" fill="#000"/>
<rect x="425" y="194" width="3" height="13" fill="#000"/>
<rect x="426" y="195" width="1" height="11" fill="#22e22a"/>
<rect x="428" y="194" width="1" height="18" fill="#000"/>
<rect x="427" y="194" width="3" height="19" fill="#000"/>
<rect x="428" y="195" width="1" height="17" fill="#ee3a38"/>
<rect x="431" y="206" width="1" height="9" fill="#000"/>
<rect x="430" y="206" width="3" height="7" fill="#000"/>
<rect x="431" y="207" width="1" height="5" fill="#22e22a"/>
<rect x="433" y="197" width="1" height="9" fill="#000"/>
<rect x="432" y="199" width="3" height="8" fill="#000"/>
<rect x="433" y="200" width="1" height="6" fill="#22e22a"/>
<rect x="436" y="199" width="1" height="13" fill="#000"/>
<rect x="435" y="199" width="3" height="7" fill="#000"/>
<rect x="436" y="200" width="1" height="5" fill="#ee3a38"/>
<rect x="435" y="205" width="9" height="1" fill="#000"/>
<rect x="443" y="179" width="1" height="35" fill="#000"/>
<rect x="442" y="183" width="3" height="23" fill="#000"/>
<rect x="443" y="184" width="1" height="21" fill="#22e22a"/>
<rect x="445" y="180" width="1" height="12" fill="#000"/>
<rect x="444" y="183" width="3" height="10" fill="#000"/>
<rect x="445" y="184" width="1" height="8" fill="#ee3a38"/>
<rect x="448" y="187" width="1" height="17" fill="#000"/>
<rect x="447" y="192" width="3" height="13" fill="#000"/>
<rect x="448" y="193" width="1" height="11" fill="#ee3a38"/>
<rect x="450" y="204" width="1" height="26" fill="#000"/>
<rect x="449" y="204" width="3" height="20" fill="#000"/>
<rect x="450" y="205" width="1" height="18" fill="#ee3a38"/>
<rect x="452" y="202" width="1" height="24" fill="#000"/>
<rect x="451" y="202" width="3" height="22" fill="#000"/>
<rect x="452" y="203" width="1" height="20" fill="#22e22a"/>
<rect x="452" y="203" width="9" height="1" fill="#000"/>
<rect x="461" y="199" width="1" height="23" fill="#000"/>
<rect x="460" y="203" width="3" height="20" fill="#000"/>
<rect x="461" y="204" width="1" height="18" fill="#ee3a38"/>
<rect x="464" y="219" width="1" height="8" fill="#000"/>
<rect x="463" y="219" width="3" height="3" fill="#000"/>
<rect x="464" y="220" width="1" height="1" fill="#ee3a38"/>
<rect x="467" y="216" width="1" height="11" fill="#000"/>
<rect x="466" y="219" width="3" height="9" fill="#000"/>
<rect x="467" y="220" width="1" height="7" fill="#ee3a38"/>
<rect x="466" y="228" width="12" height="1" fill="#000"/>
<rect x="469" y="228" width="1" height="4" fill="#000"/>
<rect x="468" y="228" width="3" height="1" fill="#000"/>
<rect x="476" y="225" width="1" height="11" fill="#000"/>
<rect x="475" y="229" width="3" height="1" fill="#000"/>
<rect x="479" y="222" width="1" height="12" fill="#000"/>
<rect x="478" y="230" width="3" height="5" fill="#000"/>
<rect x="479" y="231" width="1" height="3" fill="#ee3a38"/>
<rect x="482" y="205" width="1" height="29" fill="#000"/>
<rect x="481" y="205" width="3" height="30" fill="#000"/>
<rect x="482" y="206" width="1" height="28" fill="#22e22a"/>
<rect x="484" y="205" width="1" height="46" fill="#000"/>
<rect x="483" y="205" width="3" height="38" fill="#000"/>
<rect x="484" y="206" width="1" height="36" fill="#ee3a38"/>
<rect x="486" y="239" width="1" height="12" fill="#000"/>
<rect x="485" y="239" width="3" height="4" fill="#000"/>
<rect x="486" y="240" width="1" height="2" fill="#22e22a"/>
<rect x="485" y="239" width="10" height="1" fill="#000"/>
<rect x="493" y="235" width="1" height="15" fill="#000"/>
<rect x="492" y="235" width="3" height="5" fill="#000"/>
<rect x="493" y="236" width="1" height="3" fill="#22e22a"/>
<rect x="496" y="221" width="1" height="14" fill="#000"/>
<rect x="495" y="221" width="3" height="15" fill="#000"/>
<rect x="496" y="222" width="1" height="13" fill="#22e22a"/>
<rect x="498" y="214" width="1" height="7" fill="#000"/>
<rect x="497" y="218" width="3" height="4" fill="#000"/>
<rect x="498" y="219" width="1" height="2" fill="#22e22a"/>
<rect x="500" y="213" width="1" height="19" fill="#000"/>
<rect x="499" y="219" width="3" height="1" fill="#000"/>
<rect x="503" y="218" width="1" height="16" fill="#000"/>
<rect x="502" y="218" width="3" height="8" fill="#000"/>
<rect x="503" y="219" width="1" height="6" fill="#ee3a38"/>
<rect x="502" y="226" width="9" height="1" fill="#000"/>
<rect x="510" y="215" width="1" height="31" fill="#000"/>
<rect x="509" y="226" width="3" height="15" fill="#000"/>
<rect x="510" y="227" width="1" height="13" fill="#ee3a38"/>
<rect x="512" y="225" width="1" height="18" fill="#000"/>
<rect x="511" y="225" width="3" height="16" fill="#000"/>
<rect x="512" y="226" width="1" height="14" fill="#22e22a"/>
<rect x="515" y="214" width="1" height="11" fill="#000"/>
<rect x="514" y="214" width="3" height="12" fill="#000"/>
<rect x="515" y="215" width="1" height="10" fill="#22e22a"/>
<rect x="517" y="206" width="1" height="8" fill="#000"/>
<rect x="516" y="206" width="3" height="9" fill="#000"/>
<rect x="517" y="207" width="1" height="7" fill="#22e22a"/>
<rect x="519" y="199" width="1" height="7" fill="#000"/>
<rect x="518" y="199" width="3" height="8" fill="#000"/>
<rect x="519" y="200" width="1" height="6" fill="#22e22a"/>
<rect x="518" y="199" width="10" height="1" fill="#000"/>
<rect x="526" y="199" width="1" height="12" fill="#000"/>
<rect x="525" y="199" width="3" height="13" fill="#000"/>
<rect x="526" y="200" width="1" height="11" fill="#ee3a38"/>
<rect x="529" y="211" width="1" height="3" fill="#000"/>
<rect x="528" y="211" width="3" height="4" fill="#000"/>
<rect x="529" y="212" width="1" height="2" fill="#ee3a38"/>
<rect x="531" y="212" width="1" height="6" fill="#000"/>
<rect x="530" y="212" width="3" height="4" fill="#000"/>
<rect x="531" y="213" width="1" height="2" fill="#ee3a38"/>
<rect x="530" y="215" width="5" height="1" fill="#000"/>
<rect x="534" y="206" width="1" height="12" fill="#000"/>
<rect x="533" y="206" width="3" height="10" fill="#000"/>
<rect x="534" y="207" width="1" height="8" fill="#22e22a"/>
<rect x="536" y="195" width="1" height="11" fill="#000"/>
<rect x="535" y="195" width="3" height="12" fill="#000"/>
<rect x="536" y="196" width="1" height="10" fill="#22e22a"/>
<rect x="535" y="195" width="9" height="1" fill="#000"/>
<rect x="543" y="182" width="1" height="17" fill="#000"/>
<rect x="542" y="185" width="3" height="11" fill="#000"/>
<rect x="543" y="186" width="1" height="9" fill="#22e22a"/>
<rect x="546" y="176" width="1" height="9" fill="#000"/>
<rect x="545" y="177" width="3" height="9" fill="#000"/>
<rect x="546" y="178" width="1" height="7" fill="#22e22a"/>
<rect x="548" y="177" width="1" height="62" fill="#000"/>
<rect x="547" y="177" width="3" height="59" fill="#000"/>
<rect x="548" y="178" width="1" height="57" fill="#ee3a38"/>
<rect x="550" y="218" width="1" height="22" fill="#000"/>
<rect x="549" y="218" width="3" height="18" fill="#000"/>
<rect x="550" y="219" width="1" height="16" fill="#22e22a"/>
<rect x="553" y="199" width="1" height="21" fill="#000"/>
<rect x="552" y="201" width="3" height="18" fill="#000"/>
<rect x="553" y="202" width="1" height="16" fill="#22e22a"/>
<rect x="552" y="201" width="9" height="1" fill="#000"/>
<rect x="560" y="196" width="1" height="38" fill="#000"/>
<rect x="559" y="201" width="3" height="34" fill="#000"/>
<rect x="560" y="202" width="1" height="32" fill="#ee3a38"/>
<rect x="562" y="215" width="1" height="19" fill="#000"/>
<rect x="561" y="215" width="3" height="20" fill="#000"/>
<rect x="562" y="216" width="1" height="18" fill="#22e22a"/>
<rect x="565" y="206" width="1" height="28" fill="#000"/>
<rect x="564" y="206" width="3" height="29" fill="#000"/>
<rect x="565" y="207" width="1" height="27" fill="#22e22a"/>
<rect x="567" y="203" width="1" height="5" fill="#000"/>
<rect x="566" y="203" width="3" height="6" fill="#000"/>
<rect x="567" y="204" width="1" height="4" fill="#22e22a"/>
<rect x="569" y="187" width="1" height="21" fill="#000"/>
<rect x="568" y="196" width="3" height="13" fill="#000"/>
<rect x="569" y="197" width="1" height="11" fill="#22e22a"/>
<rect x="568" y="196" width="10" height="1" fill="#000"/>
<rect x="577" y="187" width="1" height="12" fill="#000"/>
<rect x="576" y="189" width="3" height="8" fill="#000"/>
<rect x="577" y="190" width="1" height="6" fill="#22e22a"/>
<rect x="579" y="185" width="1" height="8" fill="#000"/>
<rect x="578" y="189" width="3" height="5" fill="#000"/>
<rect x="579" y="190" width="1" height="3" fill="#ee3a38"/>
<rect x="581" y="184" width="1" height="9" fill="#000"/>
<rect x="580" y="190" width="3" height="4" fill="#000"/>
<rect x="581" y="191" width="1" height="2" fill="#22e22a"/>
<rect x="584" y="186" width="1" height="20" fill="#000"/>
<rect x="583" y="189" width="3" height="14" fill="#000"/>
<rect x="584" y="190" width="1" height="12" fill="#ee3a38"/>
<rect x="586" y="194" width="1" height="8" fill="#000"/>
<rect x="585" y="194" width="3" height="9" fill="#000"/>
<rect x="586" y="195" width="1" height="7" fill="#22e22a"/>
<rect x="585" y="194" width="9" height="1" fill="#000"/>
<rect x="593" y="188" width="1" height="11" fill="#000"/>
<rect x="592" y="194" width="3" height="6" fill="#000"/>
<rect x="593" y="195" width="1" height="4" fill="#ee3a38"/>
<rect x="596" y="193" width="1" height="16" fill="#000"/>
<rect x="595" y="199" width="3" height="11" fill="#000"/>
<rect x="596" y="200" width="1" height="9" fill="#ee3a38"/>
<rect x="598" y="203" width="1" height="10" fill="#000"/>
<rect x="597" y="203" width="3" height="7" fill="#000"/>
<rect x="598" y="204" width="1" height="5" fill="#22e22a"/>
<rect x="601" y="201" width="1" height="13" fill="#000"/>
<rect x="600" y="204" width="3" height="11" fill="#000"/>
<rect x="601" y="205" width="1" height="9" fill="#ee3a38"/>
<rect x="603" y="214" width="1" height="15" fill="#000"/>
<rect x="602" y="214" width="3" height="11" fill="#000"/>
<rect x="603" y="215" width="1" height="9" fill="#ee3a38"/>
<rect x="603" y="224" width="8" height="1" fill="#000"/>
<rect x="610" y="214" width="1" height="16" fill="#000"/>
<rect x="609" y="214" width="3" height="11" fill="#000"/>
<rect x="610" y="215" width="1" height="9" fill="#22e22a"/>
<rect x="612" y="214" width="1" height="5" fill="#000"/>
<rect x="611" y="214" width="3" height="6" fill="#000"/>
<rect x="612" y="215" width="1" height="4" fill="#ee3a38"/>
<rect x="615" y="216" width="1" height="11" fill="#000"/>
<rect x="614" y="219" width="3" height="9" fill="#000"/>
<rect x="615" y="220" width="1" height="7" fill="#ee3a38"/>
<rect x="617" y="227" width="1" height="17" fill="#000"/>
<rect x="616" y="227" width="3" height="14" fill="#000"/>
<rect x="617" y="228" width="1" height="12" fill="#ee3a38"/>
<rect x="620" y="232" width="1" height="12" fill="#000"/>
<rect x="619" y="232" width="3" height="9" fill="#000"/>
<rect x="620" y="233" width="1" height="7" fill="#22e22a"/>
<rect x="619" y="232" width="10" height="1" fill="#000"/>
<rect x="629" y="227" width="1" height="12" fill="#000"/>
<rect x="628" y="230" width="3" height="4" fill="#000"/>
<rect x="629" y="231" width="1" height="2" fill="#22e22a"/>
<rect x="632" y="223" width="1" height="14" fill="#000"/>
<rect x="631" y="223" width="3" height="8" fill="#000"/>
<rect x="632" y="224" width="1" height="6" fill="#22e22a"/>
<rect x="634" y="218" width="1" height="7" fill="#000"/>
<rect x="633" y="223" width="3" height="3" fill="#000"/>
<rect x="634" y="224" width="1" height="1" fill="#ee3a38"/>
<rect x="636" y="225" width="1" height="21" fill="#000"/>
<rect x="635" y="225" width="3" height="10" fill="#000"/>
<rect x="636" y="226" width="1" height="8" fill="#ee3a38"/>
<rect x="635" y="234" width="6" height="1" fill="#000"/>
<rect x="635" y="233" width="10" height="1" fill="#000"/>
<rect x="644" y="224" width="1" height="12" fill="#000"/>
<rect x="643" y="224" width="3" height="10" fill="#000"/>
<rect x="644" y="225" width="1" height="8" fill="#22e22a"/>
<rect x="646" y="225" width="1" height="5" fill="#000"/>
<rect x="645" y="225" width="3" height="6" fill="#000"/>
<rect x="646" y="226" width="1" height="4" fill="#22e22a"/>
<rect x="648" y="212" width="1" height="17" fill="#000"/>
<rect x="647" y="214" width="3" height="16" fill="#000"/>
<rect x="648" y="215" width="1" height="14" fill="#22e22a"/>
<rect x="651" y="211" width="1" height="10" fill="#000"/>
<rect x="650" y="214" width="3" height="8" fill="#000"/>
<rect x="651" y="215" width="1" height="6" fill="#ee3a38"/>
<rect x="653" y="221" width="1" height="4" fill="#000"/>
<rect x="652" y="221" width="3" height="5" fill="#000"/>
<rect x="653" y="222" width="1" height="3" fill="#ee3a38"/>
<rect x="652" y="226" width="7" height="1" fill="#000"/>
<rect x="658" y="217" width="1" height="14" fill="#000"/>
<rect x="657" y="219" width="3" height="8" fill="#000"/>
<rect x="658" y="220" width="1" height="6" fill="#22e22a"/>
<rect x="660" y="219" width="1" height="11" fill="#000"/>
<rect x="659" y="219" width="3" height="10" fill="#000"/>
<rect x="660" y="220" width="1" height="8" fill="#ee3a38"/>
<rect x="663" y="222" width="1" height="8" fill="#000"/>
<rect x="662" y="228" width="3" height="3" fill="#000"/>
<rect x="663" y="229" width="1" height="1" fill="#ee3a38"/>
<rect x="662" y="228" width="14" height="1" fill="#000"/>
<rect x="667" y="225" width="1" height="17" fill="#000"/>
<rect x="666" y="228" width="3" height="1" fill="#000"/>
<rect x="675" y="221" width="1" height="12" fill="#000"/>
<rect x="674" y="228" width="3" height="6" fill="#000"/>
<rect x="675" y="229" width="1" height="4" fill="#ee3a38"/>
<rect x="677" y="213" width="1" height="20" fill="#000"/>
<rect x="676" y="228" width="3" height="6" fill="#000"/>
<rect x="677" y="229" width="1" height="4" fill="#22e22a"/>
<rect x="679" y="228" width="1" height="6" fill="#000"/>
<rect x="678" y="228" width="3" height="7" fill="#000"/>
<rect x="679" y="229" width="1" height="5" fill="#22e22a"/>
<rect x="682" y="224" width="1" height="13" fill="#000"/>
<rect x="681" y="228" width="3" height="7" fill="#000"/>
<rect x="682" y="229" width="1" height="5" fill="#ee3a38"/>
<rect x="682" y="233" width="10" height="1" fill="#000"/>
<rect x="691" y="233" width="1" height="15" fill="#000"/>
<rect x="690" y="233" width="3" height="8" fill="#000"/>
<rect x="691" y="234" width="1" height="6" fill="#ee3a38"/>
<rect x="693" y="233" width="1" height="7" fill="#000"/>
<rect x="692" y="236" width="3" height="5" fill="#000"/>
<rect x="693" y="237" width="1" height="3" fill="#22e22a"/>
<rect x="696" y="233" width="1" height="19" fill="#000"/>
<rect x="695" y="236" width="3" height="15" fill="#000"/>
<rect x="696" y="237" width="1" height="13" fill="#ee3a38"/>
<rect x="698" y="247" width="1" height="3" fill="#000"/>
<rect x="697" y="247" width="3" height="4" fill="#000"/>
<rect x="698" y="248" width="1" height="2" fill="#22e22a"/>
<rect x="701" y="247" width="1" height="36" fill="#000"/>
<rect x="700" y="247" width="3" height="26" fill="#000"/>
<rect x="701" y="248" width="1" height="24" fill="#ee3a38"/>
<rect x="700" y="272" width="9" height="1" fill="#000"/>
<rect x="709" y="269" width="1" height="17" fill="#000"/>
<rect x="708" y="272" width="3" height="9" fill="#000"/>
<rect x="709" y="273" width="1" height="7" fill="#ee3a38"/>
<rect x="710" y="270" width="1" height="33" fill="#000"/>
<rect x="709" y="280" width="3" height="1" fill="#000"/>
<rect x="713" y="279" width="1" height="16" fill="#000"/>
<rect x="712" y="280" width="3" height="16" fill="#000"/>
<rect x="713" y="281" width="1" height="14" fill="#ee3a38"/>
<rect x="715" y="292" width="1" height="3" fill="#000"/>
<rect x="714" y="292" width="3" height="4" fill="#000"/>
<rect x="715" y="293" width="1" height="2" fill="#22e22a"/>
<rect x="718" y="279" width="1" height="15" fill="#000"/>
<rect x="717" y="283" width="3" height="10" fill="#000"/>
<rect x="718" y="284" width="1" height="8" fill="#22e22a"/>
<rect x="717" y="283" width="6" height="1" fill="#000"/>
<rect x="722" y="250" width="1" height="33" fill="#000"/>
<rect x="721" y="255" width="3" height="29" fill="#000"/>
<rect x="722" y="256" width="1" height="27" fill="#22e22a"/>
<rect x="725" y="242" width="1" height="13" fill="#000"/>
<rect x="724" y="252" width="3" height="4" fill="#000"/>
<rect x="725" y="253" width="1" height="2" fill="#22e22a"/>
<rect x="727" y="249" width="1" height="10" fill="#000"/>
<rect x="726" y="252" width="3" height="8" fill="#000"/>
<rect x="727" y="253" width="1" height="6" fill="#ee3a38"/>
<rect x="730" y="259" width="1" height="12" fill="#000"/>
<rect x="729" y="259" width="3" height="13" fill="#000"/>
<rect x="730" y="260" width="1" height="11" fill="#ee3a38"/>
<rect x="732" y="237" width="1" height="45" fill="#000"/>
<rect x="731" y="238" width="3" height="34" fill="#000"/>
<rect x="732" y="239" width="1" height="32" fill="#22e22a"/>
<rect x="731" y="238" width="9" height="1" fill="#000"/>
<rect x="739" y="238" width="1" height="25" fill="#000"/>
<rect x="738" y="238" width="3" height="12" fill="#000"/>
<rect x="739" y="239" width="1" height="10" fill="#ee3a38"/>
<rect x="741" y="249" width="1" height="16" fill="#000"/>
<rect x="740" y="249" width="3" height="7" fill="#000"/>
<rect x="741" y="250" width="1" height="5" fill="#ee3a38"/>
<rect x="744" y="228" width="1" height="31" fill="#000"/>
<rect x="743" y="228" width="3" height="28" fill="#000"/>
<rect x="744" y="229" width="1" height="26" fill="#22e22a"/>
<rect x="746" y="222" width="1" height="6" fill="#000"/>
<rect x="745" y="223" width="3" height="6" fill="#000"/>
<rect x="746" y="224" width="1" height="4" fill="#22e22a"/>
<rect x="749" y="221" width="1" height="10" fill="#000"/>
<rect x="748" y="223" width="3" height="9" fill="#000"/>
<rect x="749" y="224" width="1" height="7" fill="#ee3a38"/>
<rect x="749" y="231" width="8" height="1" fill="#000"/>
<rect x="756" y="222" width="1" height="9" fill="#000"/>
<rect x="755" y="227" width="3" height="5" fill="#000"/>
<rect x="756" y="228" width="1" height="3" fill="#22e22a"/>
<rect x="758" y="222" width="1" height="21" fill="#000"/>
<rect x="757" y="227" width="3" height="11" fill="#000"/>
<rect x="758" y="228" width="1" height="9" fill="#ee3a38"/>
<rect x="760" y="236" width="1" height="14" fill="#000"/>
<rect x="759" y="236" width="3" height="8" fill="#000"/>
<rect x="760" y="237" width="1" height="6" fill="#ee3a38"/>
<rect x="763" y="236" width="1" height="12" fill="#000"/>
<rect x="762" y="236" width="3" height="8" fill="#000"/>
<rect x="763" y="237" width="1" height="6" fill="#22e22a"/>
<rect x="765" y="233" width="1" height="5" fill="#000"/>
<rect x="764" y="236" width="3" height="3" fill="#000"/>
<rect x="765" y="237" width="1" height="1" fill="#ee3a38"/>
<rect x="765" y="238" width="9" height="1" fill="#000"/>
<rect x="773" y="236" width="1" height="13" fill="#000"/>
<rect x="772" y="236" width="3" height="3" fill="#000"/>
<rect x="773" y="237" width="1" height="1" fill="#22e22a"/>
<rect x="775" y="230" width="1" height="6" fill="#000"/>
<rect x="774" y="230" width="3" height="7" fill="#000"/>
<rect x="775" y="231" width="1" height="5" fill="#22e22a"/>
<rect x="777" y="223" width="1" height="7" fill="#000"/>
<rect x="776" y="226" width="3" height="5" fill="#000"/>
<rect x="777" y="227" width="1" height="3" fill="#22e22a"/>
<rect x="780" y="222" width="1" height="4" fill="#000"/>
<rect x="779" y="222" width="3" height="5" fill="#000"/>
<rect x="780" y="223" width="1" height="3" fill="#22e22a"/>
<rect x="782" y="194" width="1" height="28" fill="#000"/>
<rect x="781" y="194" width="3" height="29" fill="#000"/>
<rect x="782" y="195" width="1" height="27" fill="#22e22a"/>
<rect x="781" y="194" width="9" height="1" fill="#000"/>
<rect x="789" y="194" width="1" height="14" fill="#000"/>
<rect x="788" y="194" width="3" height="1" fill="#000"/>
<rect x="790" y="190" width="1" height="4" fill="#000"/>
<rect x="789" y="190" width="3" height="5" fill="#000"/>
<rect x="790" y="191" width="1" height="3" fill="#22e22a"/>
<rect x="792" y="186" width="1" height="16" fill="#000"/>
<rect x="791" y="190" width="3" height="3" fill="#000"/>
<rect x="792" y="191" width="1" height="1" fill="#ee3a38"/>
<rect x="794" y="186" width="1" height="6" fill="#000"/>
<rect x="793" y="190" width="3" height="3" fill="#000"/>
<rect x="794" y="191" width="1" height="1" fill="#22e22a"/>
<rect x="796" y="186" width="1" height="12" fill="#000"/>
<rect x="795" y="191" width="3" height="3" fill="#000"/>
<rect x="796" y="192" width="1" height="1" fill="#ee3a38"/>
<rect x="798" y="187" width="1" height="11" fill="#000"/>
<rect x="797" y="192" width="3" height="3" fill="#000"/>
<rect x="798" y="193" width="1" height="1" fill="#22e22a"/>
<rect x="798" y="192" width="9" height="1" fill="#000"/>
<rect x="806" y="192" width="1" height="15" fill="#000"/>
<rect x="805" y="192" width="3" height="13" fill="#000"/>
<rect x="806" y="193" width="1" height="11" fill="#ee3a38"/>
<rect x="808" y="184" width="1" height="24" fill="#000"/>
<rect x="807" y="187" width="3" height="18" fill="#000"/>
<rect x="808" y="188" width="1" height="16" fill="#22e22a"/>
<rect x="811" y="184" width="1" height="15" fill="#000"/>
<rect x="810" y="187" width="3" height="1" fill="#000"/>
<rect x="813" y="178" width="1" height="11" fill="#000"/>
<rect x="812" y="178" width="3" height="10" fill="#000"/>
<rect x="813" y="179" width="1" height="8" fill="#22e22a"/>
<rect x="816" y="156" width="1" height="25" fill="#000"/>
<rect x="815" y="163" width="3" height="19" fill="#000"/>
<rect x="816" y="164" width="1" height="17" fill="#22e22a"/>
<rect x="815" y="163" width="9" height="1" fill="#000"/>
<rect x="823" y="155" width="1" height="8" fill="#000"/>
<rect x="822" y="158" width="3" height="6" fill="#000"/>
<rect x="823" y="159" width="1" height="4" fill="#22e22a"/>
<rect x="825" y="158" width="1" height="12" fill="#000"/>
<rect x="824" y="158" width="3" height="13" fill="#000"/>
<rect x="825" y="159" width="1" height="11" fill="#ee3a38"/>
<rect x="828" y="142" width="1" height="30" fill="#000"/>
<rect x="827" y="155" width="3" height="16" fill="#000"/>
<rect x="828" y="156" width="1" height="14" fill="#22e22a"/>
<rect x="830" y="155" width="1" height="2" fill="#000"/>
<rect x="829" y="155" width="3" height="3" fill="#000"/>
<rect x="830" y="156" width="1" height="1" fill="#ee3a38"/>
<rect x="832" y="152" width="1" height="10" fill="#000"/>
<rect x="831" y="156" width="3" height="1" fill="#000"/>
<rect x="830" y="156" width="5" height="1" fill="#000"/>
<rect x="835" y="156" width="1" height="7" fill="#000"/>
<rect x="834" y="156" width="3" height="8" fill="#000"/>
<rect x="835" y="157" width="1" height="6" fill="#ee3a38"/>
<rect x="837" y="163" width="1" height="18" fill="#000"/>
<rect x="836" y="163" width="3" height="1" fill="#000"/>
<rect x="839" y="153" width="1" height="18" fill="#000"/>
<rect x="838" y="153" width="3" height="13" fill="#000"/>
<rect x="839" y="154" width="1" height="11" fill="#22e22a"/>
<rect x="842" y="149" width="1" height="7" fill="#000"/>
<rect x="841" y="152" width="3" height="5" fill="#000"/>
<rect x="842" y="153" width="1" height="3" fill="#22e22a"/>
<rect x="843" y="152" width="1" height="4" fill="#000"/>
<rect x="842" y="152" width="3" height="5" fill="#000"/>
<rect x="843" y="153" width="1" height="3" fill="#ee3a38"/>
<rect x="845" y="151" width="1" height="4" fill="#000"/>
<rect x="844" y="151" width="3" height="5" fill="#000"/>
<rect x="845" y="152" width="1" height="3" fill="#22e22a"/>
<rect x="847" y="147" width="1" height="10" fill="#000"/>
<rect x="846" y="151" width="3" height="1" fill="#000"/>
<rect x="847" y="151" width="8" height="1" fill="#000"/>
<rect x="854" y="138" width="1" height="15" fill="#000"/>
<rect x="853" y="151" width="3" height="3" fill="#000"/>
<rect x="854" y="152" width="1" height="1" fill="#ee3a38"/>
<rect x="856" y="144" width="1" height="11" fill="#000"/>
<rect x="855" y="151" width="3" height="3" fill="#000"/>
<rect x="856" y="152" width="1" height="1" fill="#22e22a"/>
<rect x="859" y="149" width="1" height="5" fill="#000"/>
<rect x="858" y="151" width="3" height="4" fill="#000"/>
<rect x="859" y="152" width="1" height="2" fill="#ee3a38"/>
<rect x="861" y="149" width="1" height="8" fill="#000"/>
<rect x="860" y="152" width="3" height="6" fill="#000"/>
<rect x="861" y="153" width="1" height="4" fill="#ee3a38"/>
<rect x="860" y="158" width="13" height="1" fill="#000"/>
<rect x="872" y="153" width="1" height="28" fill="#000"/>
<rect x="871" y="158" width="3" height="11" fill="#000"/>
<rect x="872" y="159" width="1" height="9" fill="#ee3a38"/>
<rect x="875" y="168" width="1" height="11" fill="#000"/>
<rect x="874" y="168" width="3" height="9" fill="#000"/>
<rect x="875" y="169" width="1" height="7" fill="#ee3a38"/>
<rect x="878" y="153" width="1" height="23" fill="#000"/>
<rect x="877" y="156" width="3" height="21" fill="#000"/>
<rect x="878" y="157" width="1" height="19" fill="#22e22a"/>
<rect x="878" y="157" width="10" height="1" fill="#000"/>
<rect x="887" y="152" width="1" height="24" fill="#000"/>
<rect x="886" y="157" width="3" height="20" fill="#000"/>
<rect x="887" y="158" width="1" height="18" fill="#ee3a38"/>
<rect x="889" y="160" width="1" height="18" fill="#000"/>
<rect x="888" y="160" width="3" height="17" fill="#000"/>
<rect x="889" y="161" width="1" height="15" fill="#22e22a"/>
<rect x="892" y="159" width="1" height="15" fill="#000"/>
<rect x="891" y="160" width="3" height="15" fill="#000"/>
<rect x="892" y="161" width="1" height="13" fill="#ee3a38"/>
<rect x="894" y="173" width="1" height="11" fill="#000"/>
<rect x="893" y="173" width="3" height="4" fill="#000"/>
<rect x="894" y="174" width="1" height="2" fill="#ee3a38"/>
<rect x="897" y="171" width="1" height="13" fill="#000"/>
<rect x="896" y="173" width="3" height="8" fill="#000"/>
<rect x="897" y="174" width="1" height="6" fill="#ee3a38"/>
</g>
<g shape-rendering="crispEdges" fill="#0a800a">
<rect x="3" y="477" width="1" height="5"/>
<rect x="5" y="477" width="1" height="5"/>
<rect x="8" y="477" width="1" height="5"/>
<rect x="10" y="477" width="1" height="5"/>
<rect x="12" y="477" width="1" height="4"/>
<rect x="15" y="477" width="1" height="4"/>
<rect x="17" y="477" width="1" height="5"/>
<rect x="20" y="477" width="1" height="4"/>
<rect x="22" y="477" width="1" height="3"/>
<rect x="24" y="477" width="1" height="2"/>
<rect x="27" y="477" width="1" height="2"/>
<rect x="29" y="477" width="1" height="2"/>
<rect x="31" y="476" width="1" height="2"/>
<rect x="34" y="476" width="1" height="2"/>
<rect x="36" y="476" width="1" height="2"/>
<rect x="39" y="476" width="1" height="2"/>
<rect x="41" y="476" width="1" height="2"/>
<rect x="43" y="476" width="1" height="2"/>
<rect x="46" y="476" width="1" height="2"/>
<rect x="48" y="477" width="1" height="2"/>
<rect x="51" y="477" width="1" height="3"/>
<rect x="53" y="477" width="1" height="3"/>
<rect x="55" y="477" width="1" height="4"/>
<rect x="58" y="477" width="1" height="4"/>
<rect x="60" y="477" width="1" height="4"/>
<rect x="63" y="477" width="1" height="5"/>
<rect x="65" y="477" width="1" height="5"/>
<rect x="67" y="477" width="1" height="5"/>
<rect x="70" y="477" width="1" height="5"/>
<rect x="72" y="477" width="1" height="5"/>
<rect x="75" y="477" width="1" height="5"/>
<rect x="77" y="477" width="1" height="5"/>
<rect x="79" y="477" width="1" height="3"/>
<rect x="82" y="477" width="1" height="1"/>
<rect x="84" y="473" width="1" height="5"/>
<rect x="86" y="471" width="1" height="7"/>
<rect x="89" y="470" width="1" height="8"/>
<rect x="91" y="470" width="1" height="8"/>
<rect x="94" y="470" width="1" height="8"/>
<rect x="96" y="471" width="1" height="7"/>
<rect x="98" y="473" width="1" height="5"/>
<rect x="101" y="474" width="1" height="4"/>
<rect x="103" y="476" width="1" height="2"/>
<rect x="106" y="477" width="1" height="1"/>
<rect x="108" y="477" width="1" height="2"/>
<rect x="110" y="477" width="1" height="3"/>
<rect x="113" y="477" width="1" height="4"/>
<rect x="115" y="477" width="1" height="5"/>
<rect x="118" y="477" width="1" height="6"/>
<rect x="120" y="477" width="1" height="6"/>
<rect x="122" y="477" width="1" height="7"/>
<rect x="125" y="477" width="1" height="7"/>
<rect x="127" y="477" width="1" height="7"/>
<rect x="129" y="477" width="1" height="8"/>
<rect x="132" y="477" width="1" height="9"/>
<rect x="134" y="477" width="1" height="10"/>
<rect x="137" y="477" width="1" height="11"/>
<rect x="139" y="477" width="1" height="11"/>
<rect x="141" y="477" width="1" height="11"/>
<rect x="144" y="477" width="1" height="10"/>
<rect x="146" y="477" width="1" height="8"/>
<rect x="149" y="477" width="1" height="7"/>
<rect x="151" y="477" width="1" height="6"/>
<rect x="153" y="477" width="1" height="6"/>
<rect x="156" y="477" width="1" height="6"/>
<rect x="158" y="477" width="1" height="6"/>
<rect x="161" y="477" width="1" height="6"/>
<rect x="163" y="477" width="1" height="11"/>
<rect x="165" y="477" width="1" height="12"/>
<rect x="168" y="477" width="1" height="14"/>
<rect x="170" y="477" width="1" height="16"/>
<rect x="172" y="477" width="1" height="17"/>
<rect x="175" y="477" width="1" height="19"/>
<rect x="177" y="477" width="1" height="20"/>
<rect x="180" y="477" width="1" height="15"/>
<rect x="182" y="477" width="1" height="10"/>
<rect x="184" y="477" width="1" height="8"/>
<rect x="187" y="477" width="1" height="7"/>
<rect x="189" y="477" width="1" height="5"/>
<rect x="192" y="477" width="1" height="3"/>
<rect x="194" y="476" width="1" height="2"/>
<rect x="196" y="472" width="1" height="6"/>
<rect x="199" y="469" width="1" height="9"/>
<rect x="201" y="467" width="1" height="11"/>
<rect x="204" y="465" width="1" height="13"/>
<rect x="206" y="465" width="1" height="13"/>
<rect x="208" y="464" width="1" height="14"/>
<rect x="211" y="461" width="1" height="17"/>
<rect x="213" y="460" width="1" height="18"/>
<rect x="216" y="459" width="1" height="19"/>
<rect x="218" y="461" width="1" height="17"/>
<rect x="220" y="462" width="1" height="16"/>
<rect x="223" y="462" width="1" height="16"/>
<rect x="225" y="463" width="1" height="15"/>
<rect x="227" y="464" width="1" height="14"/>
<rect x="230" y="463" width="1" height="15"/>
<rect x="232" y="463" width="1" height="15"/>
<rect x="235" y="463" width="1" height="15"/>
<rect x="237" y="465" width="1" height="13"/>
<rect x="239" y="466" width="1" height="12"/>
<rect x="242" y="464" width="1" height="14"/>
<rect x="244" y="463" width="1" height="15"/>
<rect x="247" y="464" width="1" height="14"/>
<rect x="249" y="469" width="1" height="9"/>
<rect x="251" y="472" width="1" height="6"/>
<rect x="254" y="472" width="1" height="6"/>
<rect x="256" y="472" width="1" height="6"/>
<rect x="259" y="472" width="1" height="6"/>
<rect x="261" y="473" width="1" height="5"/>
<rect x="263" y="473" width="1" height="5"/>
<rect x="266" y="475" width="1" height="3"/>
<rect x="268" y="475" width="1" height="3"/>
<rect x="270" y="477" width="1" height="1"/>
<rect x="273" y="477" width="1" height="3"/>
<rect x="275" y="477" width="1" height="4"/>
<rect x="278" y="477" width="1" height="3"/>
<rect x="280" y="477" width="1" height="2"/>
<rect x="282" y="477" width="1" height="2"/>
<rect x="285" y="477" width="1" height="1"/>
<rect x="287" y="477" width="1" height="1"/>
<rect x="290" y="477" width="1" height="1"/>
<rect x="292" y="477" width="1" height="1"/>
<rect x="294" y="477" width="1" height="2"/>
<rect x="297" y="477" width="1" height="4"/>
<rect x="299" y="477" width="1" height="4"/>
<rect x="302" y="477" width="1" height="6"/>
<rect x="304" y="477" width="1" height="6"/>
<rect x="306" y="477" width="1" height="7"/>
<rect x="309" y="477" width="1" height="7"/>
<rect x="311" y="477" width="1" height="7"/>
<rect x="314" y="477" width="1" height="7"/>
<rect x="316" y="477" width="1" height="7"/>
<rect x="318" y="477" width="1" height="3"/>
<rect x="321" y="477" width="1" height="2"/>
<rect x="323" y="477" width="1" height="2"/>
<rect x="325" y="477" width="1" height="1"/>
<rect x="328" y="477" width="1" height="1"/>
<rect x="330" y="477" width="1" height="1"/>
<rect x="333" y="477" width="1" height="1"/>
<rect x="335" y="477" width="1" height="1"/>
<rect x="337" y="477" width="1" height="1"/>
<rect x="340" y="477" width="1" height="1"/>
<rect x="342" y="477" width="1" height="1"/>
<rect x="345" y="475" width="1" height="3"/>
<rect x="347" y="475" width="1" height="3"/>
<rect x="349" y="474" width="1" height="4"/>
<rect x="352" y="474" width="1" height="4"/>
<rect x="354" y="473" width="1" height="5"/>
<rect x="357" y="473" width="1" height="5"/>
<rect x="359" y="473" width="1" height="5"/>
<rect x="361" y="473" width="1" height="5"/>
<rect x="364" y="473" width="1" height="5"/>
<rect x="366" y="475" width="1" height="3"/>
<rect x="368" y="476" width="1" height="2"/>
<rect x="371" y="477" width="1" height="1"/>
<rect x="373" y="477" width="1" height="1"/>
<rect x="376" y="477" width="1" height="1"/>
<rect x="378" y="477" width="1" height="1"/>
<rect x="380" y="477" width="1" height="1"/>
<rect x="383" y="477" width="1" height="1"/>
<rect x="385" y="477" width="1" height="3"/>
<rect x="388" y="477" width="1" height="3"/>
<rect x="390" y="477" width="1" height="3"/>
<rect x="392" y="477" width="1" height="4"/>
<rect x="395" y="477" width="1" height="4"/>
<rect x="397" y="477" width="1" height="4"/>
<rect x="400" y="477" width="1" height="4"/>
<rect x="402" y="477" width="1" height="4"/>
<rect x="404" y="477" width="1" height="4"/>
<rect x="407" y="477" width="1" height="4"/>
<rect x="409" y="477" width="1" height="2"/>
<rect x="411" y="477" width="1" height="1"/>
<rect x="414" y="477" width="1" height="1"/>
<rect x="416" y="477" width="1" height="1"/>
<rect x="419" y="476" width="1" height="2"/>
<rect x="421" y="475" width="1" height="3"/>
<rect x="423" y="475" width="1" height="3"/>
<rect x="426" y="475" width="1" height="3"/>
<rect x="428" y="475" width="1" height="3"/>
<rect x="431" y="475" width="1" height="3"/>
<rect x="433" y="475" width="1" height="3"/>
<rect x="435" y="476" width="1" height="2"/>
<rect x="438" y="477" width="1" height="1"/>
<rect x="440" y="477" width="1" height="1"/>
<rect x="443" y="477" width="1" height="1"/>
<rect x="445" y="477" width="1" height="1"/>
<rect x="447" y="477" width="1" height="1"/>
<rect x="450" y="477" width="1" height="1"/>
<rect x="452" y="477" width="1" height="1"/>
<rect x="455" y="477" width="1" height="1"/>
<rect x="457" y="477" width="1" height="1"/>
<rect x="459" y="477" width="1" height="4"/>
<rect x="462" y="477" width="1" height="5"/>
<rect x="464" y="477" width="1" height="5"/>
<rect x="466" y="477" width="1" height="5"/>
<rect x="469" y="477" width="1" height="5"/>
<rect x="471" y="477" width="1" height="4"/>
<rect x="474" y="477" width="1" height="3"/>
<rect x="476" y="477" width="1" height="3"/>
<rect x="478" y="477" width="1" height="3"/>
<rect x="481" y="477" width="1" height="3"/>
<rect x="483" y="477" width="1" height="3"/>
<rect x="486" y="477" width="1" height="3"/>
<rect x="488" y="477" width="1" height="3"/>
<rect x="490" y="477" width="1" height="3"/>
<rect x="493" y="477" width="1" height="3"/>
<rect x="495" y="477" width="1" height="2"/>
<rect x="498" y="475" width="1" height="3"/>
<rect x="500" y="475" width="1" height="3"/>
<rect x="502" y="475" width="1" height="3"/>
<rect x="505" y="475" width="1" height="3"/>
<rect x="507" y="475" width="1" height="3"/>
<rect x="509" y="475" width="1" height="3"/>
<rect x="512" y="473" width="1" height="5"/>
<rect x="514" y="473" width="1" height="5"/>
<rect x="517" y="472" width="1" height="6"/>
<rect x="519" y="472" width="1" height="6"/>
<rect x="521" y="472" width="1" height="6"/>
<rect x="524" y="473" width="1" height="5"/>
<rect x="526" y="473" width="1" height="5"/>
<rect x="529" y="473" width="1" height="5"/>
<rect x="531" y="473" width="1" height="5"/>
<rect x="533" y="473" width="1" height="5"/>
<rect x="536" y="473" width="1" height="5"/>
<rect x="538" y="473" width="1" height="5"/>
<rect x="541" y="473" width="1" height="5"/>
<rect x="543" y="473" width="1" height="5"/>
<rect x="545" y="473" width="1" height="5"/>
<rect x="548" y="474" width="1" height="4"/>
<rect x="550" y="476" width="1" height="2"/>
<rect x="553" y="477" width="1" height="1"/>
<rect x="555" y="477" width="1" height="2"/>
<rect x="557" y="477" width="1" height="2"/>
<rect x="560" y="477" width="1" height="3"/>
<rect x="562" y="477" width="1" height="3"/>
<rect x="564" y="477" width="1" height="3"/>
<rect x="567" y="477" width="1" height="3"/>
<rect x="569" y="475" width="1" height="3"/>
<rect x="572" y="475" width="1" height="3"/>
<rect x="574" y="475" width="1" height="3"/>
<rect x="576" y="475" width="1" height="3"/>
<rect x="579" y="475" width="1" height="3"/>
<rect x="581" y="475" width="1" height="3"/>
<rect x="584" y="475" width="1" height="3"/>
<rect x="586" y="475" width="1" height="3"/>
<rect x="588" y="475" width="1" height="3"/>
<rect x="591" y="475" width="1" height="3"/>
<rect x="593" y="475" width="1" height="3"/>
<rect x="596" y="477" width="1" height="1"/>
<rect x="598" y="477" width="1" height="2"/>
<rect x="600" y="477" width="1" height="3"/>
<rect x="603" y="477" width="1" height="3"/>
<rect x="605" y="477" width="1" height="5"/>
<rect x="607" y="477" width="1" height="5"/>
<rect x="610" y="477" width="1" height="5"/>
<rect x="612" y="477" width="1" height="5"/>
<rect x="615" y="477" width="1" height="5"/>
<rect x="617" y="477" width="1" height="4"/>
<rect x="619" y="477" width="1" height="3"/>
<rect x="622" y="477" width="1" height="3"/>
<rect x="624" y="477" width="1" height="3"/>
<rect x="627" y="477" width="1" height="3"/>
<rect x="629" y="477" width="1" height="3"/>
<rect x="631" y="477" width="1" height="1"/>
<rect x="634" y="477" width="1" height="1"/>
<rect x="636" y="477" width="1" height="1"/>
<rect x="639" y="477" width="1" height="1"/>
<rect x="641" y="477" width="1" height="1"/>
<rect x="643" y="477" width="1" height="1"/>
<rect x="646" y="476" width="1" height="2"/>
<rect x="648" y="475" width="1" height="3"/>
<rect x="650" y="475" width="1" height="3"/>
<rect x="653" y="475" width="1" height="3"/>
<rect x="655" y="475" width="1" height="3"/>
<rect x="658" y="475" width="1" height="3"/>
<rect x="660" y="475" width="1" height="3"/>
<rect x="662" y="476" width="1" height="2"/>
<rect x="665" y="477" width="1" height="1"/>
<rect x="667" y="477" width="1" height="1"/>
<rect x="670" y="477" width="1" height="1"/>
<rect x="672" y="477" width="1" height="1"/>
<rect x="674" y="477" width="1" height="1"/>
<rect x="677" y="477" width="1" height="1"/>
<rect x="679" y="477" width="1" height="1"/>
<rect x="682" y="477" width="1" height="1"/>
<rect x="684" y="477" width="1" height="1"/>
<rect x="686" y="477" width="1" height="1"/>
<rect x="689" y="477" width="1" height="1"/>
<rect x="691" y="477" width="1" height="1"/>
<rect x="694" y="477" width="1" height="1"/>
<rect x="696" y="477" width="1" height="1"/>
<rect x="698" y="477" width="1" height="3"/>
<rect x="701" y="477" width="1" height="5"/>
<rect x="703" y="477" width="1" height="5"/>
<rect x="705" y="477" width="1" height="5"/>
<rect x="708" y="477" width="1" height="5"/>
<rect x="710" y="477" width="1" height="6"/>
<rect x="713" y="477" width="1" height="6"/>
<rect x="715" y="477" width="1" height="6"/>
<rect x="717" y="477" width="1" height="6"/>
<rect x="720" y="477" width="1" height="4"/>
<rect x="722" y="477" width="1" height="2"/>
<rect x="725" y="475" width="1" height="3"/>
<rect x="727" y="474" width="1" height="4"/>
<rect x="729" y="473" width="1" height="5"/>
<rect x="732" y="472" width="1" height="6"/>
<rect x="734" y="471" width="1" height="7"/>
<rect x="737" y="470" width="1" height="8"/>
<rect x="739" y="470" width="1" height="8"/>
<rect x="741" y="471" width="1" height="7"/>
<rect x="744" y="471" width="1" height="7"/>
<rect x="746" y="471" width="1" height="7"/>
<rect x="748" y="472" width="1" height="6"/>
<rect x="751" y="473" width="1" height="5"/>
<rect x="753" y="474" width="1" height="4"/>
<rect x="756" y="474" width="1" height="4"/>
<rect x="758" y="475" width="1" height="3"/>
<rect x="760" y="476" width="1" height="2"/>
<rect x="763" y="477" width="1" height="1"/>
<rect x="765" y="477" width="1" height="1"/>
<rect x="768" y="477" width="1" height="1"/>
<rect x="770" y="477" width="1" height="1"/>
<rect x="772" y="476" width="1" height="2"/>
<rect x="775" y="475" width="1" height="3"/>
<rect x="777" y="474" width="1" height="4"/>
<rect x="780" y="474" width="1" height="4"/>
<rect x="782" y="473" width="1" height="5"/>
<rect x="784" y="471" width="1" height="7"/>
<rect x="787" y="471" width="1" height="7"/>
<rect x="789" y="471" width="1" height="7"/>
<rect x="792" y="471" width="1" height="7"/>
<rect x="794" y="473" width="1" height="5"/>
<rect x="796" y="474" width="1" height="4"/>
<rect x="799" y="474" width="1" height="4"/>
<rect x="801" y="475" width="1" height="3"/>
<rect x="803" y="476" width="1" height="2"/>
<rect x="806" y="477" width="1" height="1"/>
<rect x="808" y="477" width="1" height="1"/>
<rect x="811" y="476" width="1" height="2"/>
<rect x="813" y="475" width="1" height="3"/>
<rect x="815" y="475" width="1" height="3"/>
<rect x="818" y="475" width="1" height="3"/>
<rect x="820" y="475" width="1" height="3"/>
<rect x="823" y="475" width="1" height="3"/>
<rect x="825" y="475" width="1" height="3"/>
<rect x="827" y="475" width="1" height="3"/>
<rect x="830" y="475" width="1" height="3"/>
<rect x="832" y="477" width="1" height="1"/>
<rect x="835" y="477" width="1" height="1"/>
<rect x="837" y="477" width="1" height="1"/>
<rect x="839" y="477" width="1" height="1"/>
<rect x="842" y="477" width="1" height="1"/>
<rect x="844" y="477" width="1" height="1"/>
<rect x="846" y="477" width="1" height="1"/>
<rect x="849" y="477" width="1" height="2"/>
<rect x="851" y="477" width="1" height="2"/>
<rect x="854" y="477" width="1" height="3"/>
<rect x="856" y="477" width="1" height="3"/>
<rect x="858" y="477" width="1" height="3"/>
<rect x="861" y="477" width="1" height="3"/>
<rect x="863" y="477" width="1" height="3"/>
<rect x="866" y="477" width="1" height="3"/>
<rect x="868" y="477" width="1" height="3"/>
<rect x="870" y="477" width="1" height="4"/>
<rect x="873" y="477" width="1" height="6"/>
<rect x="875" y="477" width="1" height="6"/>
<rect x="878" y="477" width="1" height="6"/>
<rect x="880" y="477" width="1" height="6"/>
<rect x="882" y="477" width="1" height="5"/>
<rect x="885" y="477" width="1" height="5"/>
<rect x="887" y="477" width="1" height="5"/>
<rect x="889" y="477" width="1" height="5"/>
<rect x="892" y="477" width="1" height="5"/>
<rect x="894" y="477" width="1" height="5"/>
<rect x="897" y="477" width="1" height="5"/>
</g>
<path fill="none" stroke="#ff10f0" stroke-width="1.05" d="M3,470.5 C4.63,471.02 9.05,472.45 12.8,473.6 C16.55,474.75 20.4,476.88 25.5,477.4 C30.6,477.92 37.87,476.27 43.4,476.7 C48.93,477.13 54.02,478.9 58.7,480 C63.38,481.1 67.45,482.15 71.5,483.3 C75.55,484.45 79.6,487.23 83,486.9 C86.4,486.57 88.73,483 91.9,481.3 C95.07,479.6 98.17,477.13 102,476.7 C105.83,476.27 110.62,477.73 114.9,478.7 C119.18,479.67 123.87,480.37 127.7,482.5 C131.53,484.63 134.52,488.52 137.9,491.5 C141.28,494.48 144.18,498.07 148,500.4 C151.82,502.73 157.38,503.8 160.8,505.5 C164.22,507.2 165.52,506.55 168.5,510.6 C171.48,514.65 175.72,525.33 178.7,529.8 C181.68,534.27 183.85,535.78 186.4,537.4 C188.95,539.02 191.03,540.35 194,539.5 C196.97,538.65 200.37,536.47 204.2,532.3 C208.03,528.13 212.73,520.88 217,514.5 C221.27,508.12 225.93,499.78 229.8,494 C233.67,488.22 236.77,484.08 240.2,479.8 C243.63,475.52 245.72,471.28 250.4,468.3 C255.08,465.32 263.2,462.53 268.3,461.9 C273.4,461.27 276.75,464.37 281,464.5 C285.25,464.63 289.53,461.85 293.8,462.7 C298.07,463.55 302.33,467.18 306.6,469.6 C310.87,472.02 315.15,475.63 319.4,477.2 C323.65,478.77 327.85,478.57 332.1,479 C336.35,479.43 340.63,480.3 344.9,479.8 C349.17,479.3 353.45,477.28 357.7,476 C361.95,474.72 366.15,472.53 370.4,472.1 C374.65,471.67 378.93,472.67 383.2,473.4 C387.47,474.13 391.75,475.35 396,476.5 C400.25,477.65 404.45,479.63 408.7,480.3 C412.95,480.97 417.25,480.88 421.5,480.5 C425.75,480.12 429.95,478.75 434.2,478 C438.45,477.25 442.73,476.33 447,476 C451.27,475.67 455.5,475.17 459.8,476 C464.1,476.83 467.67,479.52 472.8,481 C477.93,482.48 484.23,484.98 490.6,484.9 C496.97,484.82 505.03,481.98 511,480.5 C516.97,479.02 520.43,477.62 526.4,476 C532.37,474.38 540.85,471.23 546.8,470.8 C552.75,470.37 557,473.18 562.1,473.4 C567.2,473.62 572.28,472.4 577.4,472.1 C582.52,471.8 587.68,470.75 592.8,471.6 C597.92,472.45 603,475.42 608.1,477.2 C613.2,478.98 619.15,481.1 623.4,482.3 C627.65,483.5 629.35,484.4 633.6,484.4 C637.85,484.4 643.8,482.95 648.9,482.3 C654,481.65 657.38,480.83 664.2,480.5 C671.02,480.17 683.8,480 689.8,480.3 C695.8,480.6 696.77,480.98 700.2,482.3 C703.63,483.62 707,486.62 710.4,488.2 C713.8,489.78 717.2,491.5 720.6,491.8 C724,492.1 727.4,491.28 730.8,490 C734.2,488.72 737.17,486.43 741,484.1 C744.83,481.77 749.53,477.87 753.8,476 C758.07,474.13 762.33,473.55 766.6,472.9 C770.87,472.25 775.15,473.08 779.4,472.1 C783.65,471.12 787.85,468.57 792.1,467 C796.35,465.43 800.63,463.77 804.9,462.7 C809.17,461.63 813.45,461.37 817.7,460.6 C821.95,459.83 826.15,458.52 830.4,458.1 C834.65,457.68 838.93,457.88 843.2,458.1 C847.47,458.32 851.75,458.55 856,459.4 C860.25,460.25 864.45,461.63 868.7,463.2 C872.95,464.77 877.25,467.02 881.5,468.8 C885.75,470.58 891.4,472.8 894.2,473.9 C897,475 897.62,475.15 898.3,475.4"/>
<polyline fill="none" stroke="#1010ff" stroke-width="1.05" stroke-linejoin="round" points="3,474 12.8,477.4 17.9,480 30.6,478.2 43.4,475.7 58.7,481.3 69,483.8 76.6,488.4 80.4,489.4 86.8,480 94.5,473.1 102,474.4 112.3,480 122.5,482.5 127.7,486.4 137.9,500.4 144.2,506.3 150.6,505.5 160.8,508.8 163.4,517 166,513.2 168.5,518.3 173.6,534.9 178.7,547.6 180,548.4 186.4,542.5 192.8,540 201.7,524.7 206.8,517 217,496.6 227.2,483.8 232.3,476.2 237.7,469.6 247.9,458.6 254.3,463.2 264.5,458.6 270.8,461.9 277.2,467 292.5,463.2 298.9,467 307.9,476 316.8,481.6 332.1,479.8 342.3,480.5 352.5,475.4 364,469 369.1,472.1 383.2,472.9 393.4,478.5 408.7,483.6 418.9,479.8 434.2,477.2 445.7,473.4 450.8,476.5 459.8,476 470.2,482.3 479.1,484.9 481.7,482.3 490.6,486.7 500.8,482.3 511,481 523.8,472.1 534,473.4 546.3,467 548,472.1 558.3,472.9 562.1,476.5 569.8,474.7 581.3,470.8 592.8,472.1 603,477.2 613.2,481 620.8,484.9 628.5,486.2 636.2,484.1 643.8,484.1 654,480.3 664.2,479.8 689.8,480.3 697.7,482.3 705.3,488.7 715.5,495.1 720.6,494.3 728.3,487.4 736,479.8 741,478.5 747.4,472.1 756.4,470.3 764,472.1 771.7,473.4 779.4,472.1 787,464.5 794.7,460.6 802.3,460.6 806.2,462.7 812.5,461.9 817.7,458.6 822.8,456.3 831.7,456 838,458.6 848.3,459.4 858.5,462.7 868.7,467.8 876.4,472.1 884,472.9 890.4,476 894.2,477.2 898.3,479.8" />
<polygon fill="#6666ff" points="69.86,664.5 72.8,674.4 77.9,674.4 80.4,671 80.94,664.5"/>
<polygon fill="#6666ff" points="128.72,664.5 130.7,669.8 135.3,673.6 137.4,679.5 139.9,675.4 144.2,676.9 146.59,664.5"/>
<polygon fill="#6666ff" points="147.59,664.5 148.6,665.9 149.82,664.5"/>
<polygon fill="#6666ff" points="152.88,664.5 154.5,668.5 157,670.3 161.4,670.3 163.9,685.6 165.3,664.5"/>
<polygon fill="#6666ff" points="170.07,664.5 170.5,666.7 176.2,666.7 178.2,669.3 179.81,664.5"/>
<polygon fill="#6666ff" points="699.95,664.5 701,670.1 705.8,670.1 708.4,673.4 710.4,672.6 713.5,678.5 715.5,672.1 717.94,664.5"/>
<polygon fill="#ff6666" points="781.92,617.5 782.4,614.7 787.5,614.7 789.6,612.1 792.1,614.7 794.7,613.4 796.93,617.5"/>
<polygon fill="#ff6666" points="797.9,617.5 799.3,616.5 804.1,616.5 804.27,617.5"/>
<polygon fill="#ff6666" points="812.25,617.5 812.5,617.2 815.6,610.3 820.2,610.3 822.8,608.3 824.44,617.5"/>
<polygon fill="#ff6666" points="827.28,617.5 827.9,616 831.7,615.4 832.52,617.5"/>
<polyline fill="none" stroke="#800080" stroke-width="1.05" stroke-linejoin="round" points="3,644.2 6.4,641.2 10.7,641.7 15.3,657.5 18.4,655 20.4,637.4 23,644.2 27.6,644.2 32,632.2 35.2,637.9 38.3,637.1 44.7,637.1 49,651.4 52.3,653.2 56.7,658.3 61.3,659.6 65.1,662.9 68.4,659.6 72.8,674.4 77.9,674.4 80.4,671 84.8,618.2 88,625.9 94.5,626.9 99,646.3 101.6,635.3 106.7,648 112.3,648.8 113.6,650.6 117.4,648 122.5,657 126.4,658.3 130.7,669.8 135.3,673.6 137.4,679.5 139.9,675.4 144.2,676.9 146.8,663.4 148.6,665.9 151.9,662.1 154.5,668.5 157,670.3 161.4,670.3 163.9,685.6 166.5,646.3 170.5,666.7 176.2,666.7 178.2,669.3 182.5,656.5 185.1,657 190.2,660.8 192.8,660.3 197.1,650.6 199.1,651.9 202.2,648 205.5,650.6 211.4,641.7 215.7,638.6 219.6,641.7 223.4,641.2 225.9,637.1 228.5,640.4 231,631.5 234.9,627.4 237.7,633.8 242.3,624.1 247.4,624.1 252.5,640.2 257.6,629.2 264.5,628.7 266.3,633.3 268.8,633.3 273.9,642.2 276.5,640.2 281.1,630.5 283.1,631.3 286.2,628.2 292.5,628.2 295.1,636.4 296.9,637.7 300.2,648.4 306.6,648.4 309.7,638.9 311.7,651.7 314.2,649.1 316.3,651.7 318.8,642.2 325.7,642.2 329.1,646.1 330.8,645.3 333.4,638.2 336,644 341.1,644 343.1,646.6 346.2,635.9 351.3,631.3 357.1,631.8 359.7,621.1 361.5,625.7 364.5,623.6 366.6,646.6 369.1,638.4 374.3,638.9 378.1,635.6 383.2,638.9 385.7,650.4 390.8,650.4 393.4,643.5 396,646.1 398,652.2 400.5,646.1 403.1,652.2 407.4,652.2 412,636.4 414.6,642.8 419.4,639.4 424,638.9 426.6,630.5 429.1,644 433.5,636.4 436.8,640.2 441.1,639.7 443.7,626.7 450.8,650.4 453.4,639.4 459.8,639.4 462.4,649.1 464.5,647.9 467.6,652.2 475.3,652.5 479.1,655.5 481.7,635.6 483.7,653.7 486.8,652.2 491.1,652.2 493.2,649.7 495.7,641.5 498.8,638.4 501.4,639.4 503.9,643.3 508,643.3 510.3,652.2 512.8,641.5 515.7,636.9 519.2,628.7 525.1,628.7 526.9,636.9 530.2,639.7 532.8,637.7 536.6,627.4 541.7,627.4 546,618 548.3,652.2 550.6,644 554,637.1 558.3,637.1 560.3,650.4 563.4,641.5 566.7,638.4 567.7,640.2 570.3,635.6 574.9,635.6 577.4,632 579.5,635.6 581.3,633.3 583.8,640.2 586.9,636.4 591.5,636.4 594,638.9 596.6,645.3 599.1,641.5 603.5,652.2 608.1,652.2 610.6,645.3 614.5,650.4 617.5,658.1 620.1,652.2 627.2,652.2 632.3,644.5 634.4,645.8 636.7,651.7 641.3,651.7 643.8,642.8 645.9,645.8 648.9,635.6 654,643.3 656.6,642.8 658.6,639.4 661.7,645.3 665.5,645.8 671.9,645.3 675.2,649.9 679,643.3 682.6,649.1 688.5,649.1 691.6,654.5 693.7,650.4 696.3,661.4 698.5,656.8 701,670.1 705.8,670.1 708.4,673.4 710.4,672.6 713.5,678.5 715.5,672.1 718.1,664 720.1,664 722.7,640.2 725.7,637.7 727.8,642.8 730.1,649.1 732.6,631.3 737.2,631.3 739.8,638.4 741.8,642.2 744.4,630 746.7,626.7 749.5,632 753.8,632.5 756.4,630 758.9,636.9 761.5,640.2 763.5,635.6 765.8,638.2 770.4,638.2 773,635.6 776.8,630.5 780.1,628.2 782.4,614.7 787.5,614.7 789.6,612.1 792.1,614.7 794.7,613.4 797.2,618 799.3,616.5 804.1,616.5 806.7,632 809.2,621.1 812.5,617.2 815.6,610.3 820.2,610.3 822.8,608.3 825.3,622.3 827.9,616 831.7,615.4 834.2,621.8 837.3,625.7 839.9,619.3 842.4,621.8 845.7,619 851.4,619 854.7,621.1 857.2,620.3 861,628.7 864.4,631.3 868.7,631.3 871.3,629.2 873.3,644 875.9,652.2 878.2,633.3 885.3,633.8 887.9,651.2 890.4,638.4 893.5,647.1 898.1,651.7" />
<g shape-rendering="crispEdges"><line x1="3" y1="617.5" x2="898" y2="617.5" stroke="#ff6666"/><line x1="3" y1="664.5" x2="898" y2="664.5" stroke="#6666ff"/></g>
<g font-family="Liberation Sans, sans-serif" font-size="11px" stroke="#000" stroke-width="0.25" style="filter:grayscale(1)">
<text x="15" y="10" text-anchor="start" fill="#000" textLength="113.2" lengthAdjust="spacing">Agfa-Gevaert (L&amp;S RT)</text>
<text x="165" y="10" text-anchor="start" fill="#000" textLength="95" lengthAdjust="spacing">GD 38 Tage: 3,9434</text>
<text x="297" y="10" text-anchor="start" fill="#000" textLength="101.8" lengthAdjust="spacing">GD 100 Tage: 3,6684</text>
<text x="435" y="10" text-anchor="start" fill="#000" textLength="101.6" lengthAdjust="spacing">GD 200 Tage: 3,6451</text>
<text x="15" y="432" text-anchor="start" fill="#000" textLength="120.2" lengthAdjust="spacing">MACD (26, 12): -0,00801</text>
<text x="171" y="432" text-anchor="start" fill="#000" textLength="80.5" lengthAdjust="spacing">EXP (9): 0,01307</text>
<text x="288" y="432" text-anchor="start" fill="#000" textLength="103.4" lengthAdjust="spacing">Divergence: -0,02108</text>
<text x="15" y="576" text-anchor="start" fill="#000" textLength="77.6" lengthAdjust="spacing">RSI (14): 41,516</text>
<text x="902" y="45" text-anchor="start" fill="#000">4,8</text>
<text x="902" y="71" text-anchor="start" fill="#000">4,6</text>
<text x="902" y="98" text-anchor="start" fill="#000">4,4</text>
<text x="902" y="127" text-anchor="start" fill="#000">4,2</text>
<text x="902" y="157" text-anchor="start" fill="#000">4,0</text>
<text x="902" y="188" text-anchor="start" fill="#000">3,8</text>
<text x="902" y="221" text-anchor="start" fill="#000">3,6</text>
<text x="902" y="256" text-anchor="start" fill="#000">3,4</text>
<text x="902" y="293" text-anchor="start" fill="#000">3,2</text>
<text x="902" y="333" text-anchor="start" fill="#000">3,0</text>
<text x="902" y="375" text-anchor="start" fill="#000">2,8</text>
<text x="902" y="441" text-anchor="start" fill="#000">0,2</text>
<text x="902" y="481" text-anchor="start" fill="#000">0,0</text>
<text x="902" y="520" text-anchor="start" fill="#000">-0,2</text>
<text x="902" y="560" text-anchor="start" fill="#000">-0,4</text>
<text x="902" y="585" text-anchor="start" fill="#000">100</text>
<text x="902" y="609" text-anchor="start" fill="#000">80</text>
<text x="902" y="633" text-anchor="start" fill="#000">60</text>
<text x="902" y="656" text-anchor="start" fill="#000">40</text>
<text x="902" y="680" text-anchor="start" fill="#000">20</text>
<text x="902" y="704" text-anchor="start" fill="#000">0</text>
<text x="75.8" y="412.6" text-anchor="middle" fill="#000" textLength="20.3" lengthAdjust="spacing">Feb.</text>
<text x="144.8" y="412.6" text-anchor="middle" fill="#000" textLength="23.1" lengthAdjust="spacing">März</text>
<text x="213.8" y="412.6" text-anchor="middle" fill="#000" textLength="21.3" lengthAdjust="spacing">April</text>
<text x="276.8" y="412.6" text-anchor="middle" fill="#000" textLength="16.2" lengthAdjust="spacing">Mai</text>
<text x="342.8" y="412.6" text-anchor="middle" fill="#000" textLength="19.1" lengthAdjust="spacing">Juni</text>
<text x="414.8" y="412.6" text-anchor="middle" fill="#000" textLength="15" lengthAdjust="spacing">Juli</text>
<text x="488.8" y="412.6" text-anchor="middle" fill="#000" textLength="22.4" lengthAdjust="spacing">Aug.</text>
<text x="562.8" y="412.6" text-anchor="middle" fill="#000" textLength="21.2" lengthAdjust="spacing">Sep.</text>
<text x="634.8" y="412.6" text-anchor="middle" fill="#000" textLength="18.8" lengthAdjust="spacing">Okt.</text>
<text x="706.8" y="412.6" text-anchor="middle" fill="#000" textLength="21.2" lengthAdjust="spacing">Nov.</text>
<text x="775.8" y="412.6" text-anchor="middle" fill="#000" textLength="21.7" lengthAdjust="spacing">Dez.</text>
<text x="837.8" y="412.6" text-anchor="middle" fill="#000" textLength="19.4" lengthAdjust="spacing">Jan.</text>
</g>
<g font-family="Liberation Sans, sans-serif" font-size="11px">
<rect x="3.5" y="2.5" width="7" height="7" fill="#f04040" stroke="#000" stroke-width="1" shape-rendering="crispEdges"/>
<rect x="153.5" y="2.5" width="7" height="7" fill="#0000ff" stroke="#000" stroke-width="1" shape-rendering="crispEdges"/>
<rect x="285.5" y="2.5" width="7" height="7" fill="#ff0000" stroke="#000" stroke-width="1" shape-rendering="crispEdges"/>
<rect x="423.5" y="2.5" width="7" height="7" fill="#00ee00" stroke="#000" stroke-width="1" shape-rendering="crispEdges"/>
<rect x="3.5" y="424.5" width="7" height="7" fill="#0000ff" stroke="#000" stroke-width="1" shape-rendering="crispEdges"/>
<rect x="159.5" y="424.5" width="7" height="7" fill="#ff00ff" stroke="#000" stroke-width="1" shape-rendering="crispEdges"/>
<rect x="276.5" y="424.5" width="7" height="7" fill="#008000" stroke="#000" stroke-width="1" shape-rendering="crispEdges"/>
<rect x="3.5" y="568.5" width="7" height="7" fill="#800080" stroke="#000" stroke-width="1" shape-rendering="crispEdges"/>
<text x="902" y="621" text-anchor="start" fill="#ff6666">70</text>
<text x="902" y="668" text-anchor="start" fill="#6666ff">30</text>
</g>
<g fill="none" shape-rendering="crispEdges">
<line x1="83.1" y1="35.1" x2="289.2" y2="263" stroke="#ed1c24" stroke-width="3.1"/>
<line x1="285" y1="165.45" x2="940" y2="187.28" stroke="#ed1c24" stroke-width="3"/>
<line x1="637" y1="209.5" x2="940" y2="209.5" stroke="#ff7f27" stroke-width="3"/>
<line x1="178.9" y1="367.1" x2="317.2" y2="152.8" stroke="#a349a4" stroke-width="3.1"/>
<line x1="710.7" y1="305" x2="942" y2="81.6" stroke="#a349a4" stroke-width="3.1"/>
</g>
</svg></body></html>
